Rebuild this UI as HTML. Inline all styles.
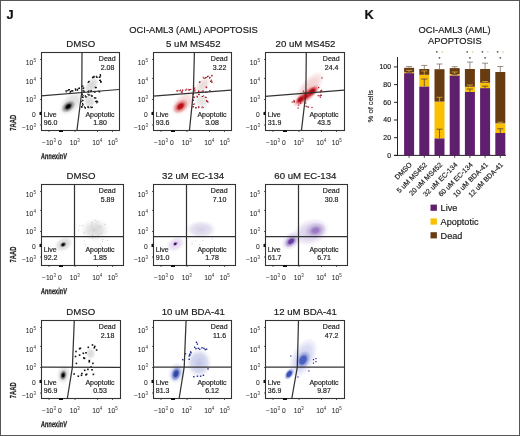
<!DOCTYPE html>
<html><head><meta charset="utf-8"><style>
html,body{margin:0;padding:0;background:#fff;}
svg{display:block;}
text{font-family:"Liberation Sans", sans-serif;}
</style></head><body>
<svg style="will-change:transform" width="520" height="436" viewBox="0 0 520 436">
<defs><filter id="b0_6" x="-100%" y="-100%" width="300%" height="300%"><feGaussianBlur stdDeviation="0.6"/></filter><filter id="b1" x="-100%" y="-100%" width="300%" height="300%"><feGaussianBlur stdDeviation="1"/></filter><filter id="b1_5" x="-100%" y="-100%" width="300%" height="300%"><feGaussianBlur stdDeviation="1.5"/></filter><filter id="b2" x="-100%" y="-100%" width="300%" height="300%"><feGaussianBlur stdDeviation="2"/></filter><filter id="b3" x="-100%" y="-100%" width="300%" height="300%"><feGaussianBlur stdDeviation="3"/></filter><filter id="b4" x="-100%" y="-100%" width="300%" height="300%"><feGaussianBlur stdDeviation="4"/></filter><filter id="b5" x="-100%" y="-100%" width="300%" height="300%"><feGaussianBlur stdDeviation="5"/></filter><radialGradient id="g1"><stop offset="0" stop-color="#d6d6d6" stop-opacity="0.85"/><stop offset="0.55" stop-color="#d6d6d6" stop-opacity="0.6375"/><stop offset="1" stop-color="#d6d6d6" stop-opacity="0"/></radialGradient><radialGradient id="g2"><stop offset="0" stop-color="#000" stop-opacity="1"/><stop offset="0.25" stop-color="#000" stop-opacity="1"/><stop offset="0.6" stop-color="#777" stop-opacity="0.7"/><stop offset="1" stop-color="#777" stop-opacity="0"/></radialGradient><radialGradient id="g3"><stop offset="0" stop-color="#cfcfcf" stop-opacity="0.85"/><stop offset="0.55" stop-color="#cfcfcf" stop-opacity="0.6375"/><stop offset="1" stop-color="#cfcfcf" stop-opacity="0"/></radialGradient><radialGradient id="g4"><stop offset="0" stop-color="#d2d2d2" stop-opacity="0.85"/><stop offset="0.55" stop-color="#d2d2d2" stop-opacity="0.6375"/><stop offset="1" stop-color="#d2d2d2" stop-opacity="0"/></radialGradient><radialGradient id="g5"><stop offset="0" stop-color="#f2cccc" stop-opacity="0.85"/><stop offset="0.55" stop-color="#f2cccc" stop-opacity="0.6375"/><stop offset="1" stop-color="#f2cccc" stop-opacity="0"/></radialGradient><radialGradient id="g6"><stop offset="0" stop-color="#b81018" stop-opacity="1"/><stop offset="0.3" stop-color="#b81018" stop-opacity="1"/><stop offset="0.6" stop-color="#e07070" stop-opacity="0.7"/><stop offset="1" stop-color="#e07070" stop-opacity="0"/></radialGradient><radialGradient id="g7"><stop offset="0" stop-color="#e6d6d6" stop-opacity="0.9"/><stop offset="0.55" stop-color="#e6d6d6" stop-opacity="0.675"/><stop offset="1" stop-color="#e6d6d6" stop-opacity="0"/></radialGradient><radialGradient id="g8"><stop offset="0" stop-color="#e2dede" stop-opacity="0.9"/><stop offset="0.55" stop-color="#e2dede" stop-opacity="0.675"/><stop offset="1" stop-color="#e2dede" stop-opacity="0"/></radialGradient><radialGradient id="g9"><stop offset="0" stop-color="#f0c4c4" stop-opacity="0.85"/><stop offset="0.55" stop-color="#f0c4c4" stop-opacity="0.6375"/><stop offset="1" stop-color="#f0c4c4" stop-opacity="0"/></radialGradient><radialGradient id="g10"><stop offset="0" stop-color="#c01820" stop-opacity="1"/><stop offset="0.3" stop-color="#c01820" stop-opacity="1"/><stop offset="0.6" stop-color="#e07078" stop-opacity="0.7"/><stop offset="1" stop-color="#e07078" stop-opacity="0"/></radialGradient><radialGradient id="g11"><stop offset="0" stop-color="#a80c14" stop-opacity="1"/><stop offset="0.4" stop-color="#a80c14" stop-opacity="1"/><stop offset="0.6" stop-color="#c83038" stop-opacity="0.7"/><stop offset="1" stop-color="#c83038" stop-opacity="0"/></radialGradient><radialGradient id="g12"><stop offset="0" stop-color="#a80c14" stop-opacity="1"/><stop offset="0.4" stop-color="#a80c14" stop-opacity="1"/><stop offset="0.6" stop-color="#c83038" stop-opacity="0.7"/><stop offset="1" stop-color="#c83038" stop-opacity="0"/></radialGradient><radialGradient id="g13"><stop offset="0" stop-color="#d0d0d0" stop-opacity="0.85"/><stop offset="0.55" stop-color="#d0d0d0" stop-opacity="0.6375"/><stop offset="1" stop-color="#d0d0d0" stop-opacity="0"/></radialGradient><radialGradient id="g14"><stop offset="0" stop-color="#000" stop-opacity="1"/><stop offset="0.3" stop-color="#000" stop-opacity="1"/><stop offset="0.6" stop-color="#666" stop-opacity="0.7"/><stop offset="1" stop-color="#666" stop-opacity="0"/></radialGradient><radialGradient id="g15"><stop offset="0" stop-color="#d0d0d0" stop-opacity="0.9"/><stop offset="0.5" stop-color="#dadada" stop-opacity="0.7"/><stop offset="1" stop-color="#eee" stop-opacity="0"/></radialGradient><radialGradient id="g16"><stop offset="0" stop-color="#e0d2ee" stop-opacity="0.9"/><stop offset="0.55" stop-color="#e0d2ee" stop-opacity="0.675"/><stop offset="1" stop-color="#e0d2ee" stop-opacity="0"/></radialGradient><radialGradient id="g17"><stop offset="0" stop-color="#2a1050" stop-opacity="1"/><stop offset="0.3" stop-color="#2a1050" stop-opacity="1"/><stop offset="0.6" stop-color="#9070c0" stop-opacity="0.7"/><stop offset="1" stop-color="#9070c0" stop-opacity="0"/></radialGradient><radialGradient id="g18"><stop offset="0" stop-color="#d2cae4" stop-opacity="0.9"/><stop offset="0.6" stop-color="#dcd6ec" stop-opacity="0.7"/><stop offset="1" stop-color="#eee" stop-opacity="0"/></radialGradient><radialGradient id="g19"><stop offset="0" stop-color="#d0c4e6" stop-opacity="0.85"/><stop offset="0.55" stop-color="#d0c4e6" stop-opacity="0.6375"/><stop offset="1" stop-color="#d0c4e6" stop-opacity="0"/></radialGradient><radialGradient id="g20"><stop offset="0" stop-color="#6a3ca0" stop-opacity="1"/><stop offset="0.35" stop-color="#6a3ca0" stop-opacity="1"/><stop offset="0.6" stop-color="#9a80c4" stop-opacity="0.7"/><stop offset="1" stop-color="#9a80c4" stop-opacity="0"/></radialGradient><radialGradient id="g21"><stop offset="0" stop-color="#d4c8e8" stop-opacity="0.9"/><stop offset="0.55" stop-color="#d4c8e8" stop-opacity="0.675"/><stop offset="1" stop-color="#d4c8e8" stop-opacity="0"/></radialGradient><radialGradient id="g22"><stop offset="0" stop-color="#9a78c4" stop-opacity="1"/><stop offset="0.25" stop-color="#9a78c4" stop-opacity="1"/><stop offset="0.6" stop-color="#bcaad8" stop-opacity="0.7"/><stop offset="1" stop-color="#bcaad8" stop-opacity="0"/></radialGradient><radialGradient id="g23"><stop offset="0" stop-color="#d6d6d6" stop-opacity="0.85"/><stop offset="0.55" stop-color="#d6d6d6" stop-opacity="0.6375"/><stop offset="1" stop-color="#d6d6d6" stop-opacity="0"/></radialGradient><radialGradient id="g24"><stop offset="0" stop-color="#000" stop-opacity="1"/><stop offset="0.25" stop-color="#000" stop-opacity="1"/><stop offset="0.6" stop-color="#666" stop-opacity="0.7"/><stop offset="1" stop-color="#666" stop-opacity="0"/></radialGradient><radialGradient id="g25"><stop offset="0" stop-color="#d4d4d4" stop-opacity="0.85"/><stop offset="0.55" stop-color="#d4d4d4" stop-opacity="0.6375"/><stop offset="1" stop-color="#d4d4d4" stop-opacity="0"/></radialGradient><radialGradient id="g26"><stop offset="0" stop-color="#c4cbec" stop-opacity="0.85"/><stop offset="0.55" stop-color="#c4cbec" stop-opacity="0.6375"/><stop offset="1" stop-color="#c4cbec" stop-opacity="0"/></radialGradient><radialGradient id="g27"><stop offset="0" stop-color="#3048a8" stop-opacity="1"/><stop offset="0.35" stop-color="#3048a8" stop-opacity="1"/><stop offset="0.6" stop-color="#6070c0" stop-opacity="0.7"/><stop offset="1" stop-color="#6070c0" stop-opacity="0"/></radialGradient><radialGradient id="g28"><stop offset="0" stop-color="#bcc0e4" stop-opacity="0.95"/><stop offset="0.6" stop-color="#ccd0ea" stop-opacity="0.8"/><stop offset="1" stop-color="#e6e6f2" stop-opacity="0"/></radialGradient><radialGradient id="g29"><stop offset="0" stop-color="#c8ccee" stop-opacity="0.9"/><stop offset="0.55" stop-color="#c8ccee" stop-opacity="0.675"/><stop offset="1" stop-color="#c8ccee" stop-opacity="0"/></radialGradient><radialGradient id="g30"><stop offset="0" stop-color="#3a50b8" stop-opacity="1"/><stop offset="0.45" stop-color="#3a50b8" stop-opacity="1"/><stop offset="0.6" stop-color="#6878c8" stop-opacity="0.7"/><stop offset="1" stop-color="#6878c8" stop-opacity="0"/></radialGradient><radialGradient id="g31"><stop offset="0" stop-color="#4a60c0" stop-opacity="1"/><stop offset="0.4" stop-color="#4a60c0" stop-opacity="1"/><stop offset="0.6" stop-color="#8090d4" stop-opacity="0.7"/><stop offset="1" stop-color="#8090d4" stop-opacity="0"/></radialGradient></defs>
<rect width="520" height="436" fill="#fff"/>
<rect x="0.5" y="0.5" width="519" height="435" fill="none" stroke="#555" stroke-width="1"/>
<text x="6.6" y="18.9" font-size="12.8" text-anchor="start" font-weight="bold" fill="#111" stroke="#111" stroke-width="0.18" >J</text>
<text x="193.5" y="32.6" font-size="9.4" text-anchor="middle" font-weight="normal" fill="#1a1a1a" stroke="#1a1a1a" stroke-width="0.18" >OCI-AML3 (AML) APOPTOSIS</text>
<ellipse cx="71" cy="103.5" rx="15" ry="9" transform="rotate(-45 71 103.5)" fill="url(#g1)"/>
<ellipse cx="68.3" cy="106.5" rx="8" ry="5.2" transform="rotate(-38 68.3 106.5)" fill="url(#g2)"/>
<ellipse cx="91.5" cy="85.5" rx="10" ry="5.8" transform="rotate(-55 91.5 85.5)" fill="url(#g3)"/>
<ellipse cx="89.5" cy="101.5" rx="6.5" ry="6" transform="rotate(0 89.5 101.5)" fill="url(#g4)"/>
<rect x="91.9" y="76.8" width="1.2" height="1.2" fill="#111"/>
<rect x="92.4" y="76.7" width="1.2" height="1.2" fill="#111"/>
<rect x="92.3" y="77.2" width="1.2" height="1.2" fill="#111"/>
<rect x="93.3" y="76.5" width="1.2" height="1.2" fill="#111"/>
<rect x="93.3" y="76.4" width="1.2" height="1.2" fill="#111"/>
<rect x="93.3" y="75.8" width="1.2" height="1.2" fill="#111"/>
<rect x="96.2" y="76.6" width="1.2" height="1.2" fill="#111"/>
<rect x="95.7" y="75.7" width="1.2" height="1.2" fill="#111"/>
<rect x="96.5" y="76.8" width="1.2" height="1.2" fill="#111"/>
<rect x="98.7" y="76.7" width="1.2" height="1.2" fill="#111"/>
<rect x="99.4" y="76.2" width="1.2" height="1.2" fill="#111"/>
<rect x="99.2" y="76.6" width="1.2" height="1.2" fill="#111"/>
<rect x="99.7" y="74.0" width="1.2" height="1.2" fill="#111"/>
<rect x="100.0" y="75.1" width="1.2" height="1.2" fill="#111"/>
<rect x="99.8" y="74.7" width="1.2" height="1.2" fill="#111"/>
<rect x="99.9" y="80.1" width="1.2" height="1.2" fill="#111"/>
<rect x="99.8" y="79.6" width="1.2" height="1.2" fill="#111"/>
<rect x="99.0" y="79.8" width="1.2" height="1.2" fill="#111"/>
<rect x="100.6" y="81.3" width="1.2" height="1.2" fill="#111"/>
<rect x="100.0" y="81.5" width="1.2" height="1.2" fill="#111"/>
<rect x="100.2" y="81.1" width="1.2" height="1.2" fill="#111"/>
<rect x="95.6" y="86.9" width="1.2" height="1.2" fill="#111"/>
<rect x="94.7" y="86.7" width="1.2" height="1.2" fill="#111"/>
<rect x="95.1" y="87.2" width="1.2" height="1.2" fill="#111"/>
<rect x="88.1" y="81.1" width="1.2" height="1.2" fill="#111"/>
<rect x="88.5" y="80.8" width="1.2" height="1.2" fill="#111"/>
<rect x="87.6" y="81.8" width="1.2" height="1.2" fill="#111"/>
<rect x="81.3" y="85.4" width="1.2" height="1.2" fill="#111"/>
<rect x="81.2" y="85.7" width="1.2" height="1.2" fill="#111"/>
<rect x="82.3" y="85.5" width="1.2" height="1.2" fill="#111"/>
<rect x="83.1" y="87.4" width="1.2" height="1.2" fill="#111"/>
<rect x="82.8" y="87.9" width="1.2" height="1.2" fill="#111"/>
<rect x="82.6" y="87.6" width="1.2" height="1.2" fill="#111"/>
<rect x="83.6" y="90.7" width="1.2" height="1.2" fill="#111"/>
<rect x="83.1" y="90.3" width="1.2" height="1.2" fill="#111"/>
<rect x="82.4" y="90.3" width="1.2" height="1.2" fill="#111"/>
<rect x="87.9" y="91.4" width="1.2" height="1.2" fill="#111"/>
<rect x="88.2" y="90.3" width="1.2" height="1.2" fill="#111"/>
<rect x="87.5" y="90.9" width="1.2" height="1.2" fill="#111"/>
<rect x="90.3" y="90.5" width="1.2" height="1.2" fill="#111"/>
<rect x="90.6" y="90.0" width="1.2" height="1.2" fill="#111"/>
<rect x="90.4" y="91.0" width="1.2" height="1.2" fill="#111"/>
<rect x="93.9" y="90.8" width="1.2" height="1.2" fill="#111"/>
<rect x="94.3" y="91.8" width="1.2" height="1.2" fill="#111"/>
<rect x="93.8" y="91.1" width="1.2" height="1.2" fill="#111"/>
<rect x="98.7" y="91.2" width="1.2" height="1.2" fill="#111"/>
<rect x="99.1" y="91.2" width="1.2" height="1.2" fill="#111"/>
<rect x="98.2" y="90.5" width="1.2" height="1.2" fill="#111"/>
<rect x="65.7" y="91.2" width="1.2" height="1.2" fill="#111"/>
<rect x="66.6" y="90.0" width="1.2" height="1.2" fill="#111"/>
<rect x="65.4" y="90.2" width="1.2" height="1.2" fill="#111"/>
<rect x="68.3" y="89.4" width="1.2" height="1.2" fill="#111"/>
<rect x="68.8" y="89.0" width="1.2" height="1.2" fill="#111"/>
<rect x="67.9" y="89.3" width="1.2" height="1.2" fill="#111"/>
<rect x="71.4" y="90.1" width="1.2" height="1.2" fill="#111"/>
<rect x="72.3" y="90.3" width="1.2" height="1.2" fill="#111"/>
<rect x="71.6" y="90.2" width="1.2" height="1.2" fill="#111"/>
<rect x="74.7" y="88.2" width="1.2" height="1.2" fill="#111"/>
<rect x="75.0" y="89.3" width="1.2" height="1.2" fill="#111"/>
<rect x="75.0" y="89.4" width="1.2" height="1.2" fill="#111"/>
<rect x="77.1" y="89.2" width="1.2" height="1.2" fill="#111"/>
<rect x="76.7" y="89.6" width="1.2" height="1.2" fill="#111"/>
<rect x="76.6" y="88.7" width="1.2" height="1.2" fill="#111"/>
<rect x="78.6" y="87.8" width="1.2" height="1.2" fill="#111"/>
<rect x="78.8" y="87.6" width="1.2" height="1.2" fill="#111"/>
<rect x="78.3" y="87.7" width="1.2" height="1.2" fill="#111"/>
<rect x="69.8" y="91.0" width="1.2" height="1.2" fill="#111"/>
<rect x="69.6" y="91.8" width="1.2" height="1.2" fill="#111"/>
<rect x="70.6" y="90.6" width="1.2" height="1.2" fill="#111"/>
<rect x="81.5" y="93.9" width="1.2" height="1.2" fill="#111"/>
<rect x="81.7" y="93.5" width="1.2" height="1.2" fill="#111"/>
<rect x="82.5" y="94.9" width="1.2" height="1.2" fill="#111"/>
<rect x="82.4" y="96.9" width="1.2" height="1.2" fill="#111"/>
<rect x="81.8" y="96.3" width="1.2" height="1.2" fill="#111"/>
<rect x="82.2" y="96.5" width="1.2" height="1.2" fill="#111"/>
<rect x="82.4" y="99.9" width="1.2" height="1.2" fill="#111"/>
<rect x="81.1" y="101.1" width="1.2" height="1.2" fill="#111"/>
<rect x="81.9" y="99.8" width="1.2" height="1.2" fill="#111"/>
<rect x="82.0" y="103.0" width="1.2" height="1.2" fill="#111"/>
<rect x="81.9" y="104.6" width="1.2" height="1.2" fill="#111"/>
<rect x="82.5" y="104.1" width="1.2" height="1.2" fill="#111"/>
<rect x="81.0" y="105.9" width="1.2" height="1.2" fill="#111"/>
<rect x="80.9" y="106.5" width="1.2" height="1.2" fill="#111"/>
<rect x="81.5" y="106.5" width="1.2" height="1.2" fill="#111"/>
<rect x="83.9" y="106.3" width="1.2" height="1.2" fill="#111"/>
<rect x="84.7" y="107.5" width="1.2" height="1.2" fill="#111"/>
<rect x="84.8" y="107.2" width="1.2" height="1.2" fill="#111"/>
<rect x="88.2" y="107.1" width="1.2" height="1.2" fill="#111"/>
<rect x="87.3" y="106.7" width="1.2" height="1.2" fill="#111"/>
<rect x="87.5" y="105.9" width="1.2" height="1.2" fill="#111"/>
<rect x="90.3" y="106.3" width="1.2" height="1.2" fill="#111"/>
<rect x="90.7" y="107.0" width="1.2" height="1.2" fill="#111"/>
<rect x="91.8" y="106.6" width="1.2" height="1.2" fill="#111"/>
<rect x="88.4" y="94.9" width="1.2" height="1.2" fill="#111"/>
<rect x="88.4" y="93.9" width="1.2" height="1.2" fill="#111"/>
<rect x="87.3" y="93.7" width="1.2" height="1.2" fill="#111"/>
<rect x="90.6" y="94.7" width="1.2" height="1.2" fill="#111"/>
<rect x="91.3" y="95.8" width="1.2" height="1.2" fill="#111"/>
<rect x="91.6" y="95.2" width="1.2" height="1.2" fill="#111"/>
<rect x="94.7" y="97.4" width="1.2" height="1.2" fill="#111"/>
<rect x="93.8" y="97.2" width="1.2" height="1.2" fill="#111"/>
<rect x="95.2" y="97.4" width="1.2" height="1.2" fill="#111"/>
<rect x="96.1" y="100.4" width="1.2" height="1.2" fill="#111"/>
<rect x="95.2" y="100.9" width="1.2" height="1.2" fill="#111"/>
<rect x="95.4" y="100.9" width="1.2" height="1.2" fill="#111"/>
<rect x="97.1" y="101.3" width="1.2" height="1.2" fill="#111"/>
<rect x="96.1" y="102.2" width="1.2" height="1.2" fill="#111"/>
<rect x="96.7" y="101.0" width="1.2" height="1.2" fill="#111"/>
<rect x="84.8" y="95.2" width="1.2" height="1.2" fill="#111"/>
<rect x="86.0" y="96.3" width="1.2" height="1.2" fill="#111"/>
<rect x="84.8" y="96.3" width="1.2" height="1.2" fill="#111"/>
<rect x="41.5" y="52.5" width="78" height="78" fill="none" stroke="#333" stroke-width="1.1"/>
<polyline points="82,52 81.8,91.8 77,130" fill="none" stroke="#333" stroke-width="1.25"/>
<polyline points="41,95.9 119,89.5" fill="none" stroke="#333" stroke-width="1.25"/>
<text x="80.8" y="46.7" font-size="9.65" text-anchor="middle" font-weight="normal" fill="#1a1a1a" stroke="#1a1a1a" stroke-width="0.18" >DMSO</text>
<text x="107.2" y="60.6" font-size="7" text-anchor="middle" font-weight="normal" fill="#222" stroke="#222" stroke-width="0.18" >Dead</text>
<text x="107.6" y="69.6" font-size="7" text-anchor="middle" font-weight="normal" fill="#222" stroke="#222" stroke-width="0.18" >2.08</text>
<text x="43.8" y="116.6" font-size="7" text-anchor="start" font-weight="normal" fill="#222" stroke="#222" stroke-width="0.18" >Live</text>
<text x="43.8" y="124.8" font-size="7" text-anchor="start" font-weight="normal" fill="#222" stroke="#222" stroke-width="0.18" >96.0</text>
<text x="100" y="116.6" font-size="7" text-anchor="middle" font-weight="normal" fill="#222" stroke="#222" stroke-width="0.18" >Apoptotic</text>
<text x="100" y="124.8" font-size="7" text-anchor="middle" font-weight="normal" fill="#222" stroke="#222" stroke-width="0.18" >1.80</text>
<text x="25.85" y="64.7" font-size="6.7" fill="#2a2a2a" stroke="#2a2a2a" stroke-width="0.06">10</text>
<text transform="translate(33.40 61.70) scale(0.5000)" x="0" y="0" font-size="9" fill="#333">5</text>
<text x="25.85" y="83.7" font-size="6.7" fill="#2a2a2a" stroke="#2a2a2a" stroke-width="0.06">10</text>
<text transform="translate(33.40 80.70) scale(0.5000)" x="0" y="0" font-size="9" fill="#333">4</text>
<text x="25.85" y="102.4" font-size="6.7" fill="#2a2a2a" stroke="#2a2a2a" stroke-width="0.06">10</text>
<text transform="translate(33.40 99.40) scale(0.5000)" x="0" y="0" font-size="9" fill="#333">3</text>
<text x="35.8" y="116.8" font-size="6.7" text-anchor="end" font-weight="normal" fill="#2a2a2a" stroke="#2a2a2a" stroke-width="0.06" >0</text>
<text x="21.93" y="129.7" font-size="6.7" fill="#2a2a2a" stroke="#2a2a2a" stroke-width="0.06">−10</text>
<text transform="translate(33.40 126.70) scale(0.5000)" x="0" y="0" font-size="9" fill="#333">3</text>
<text x="42.00" y="145.2" font-size="6.7" fill="#2a2a2a" stroke="#2a2a2a" stroke-width="0.06">−10</text>
<text transform="translate(53.47 142.20) scale(0.5000)" x="0" y="0" font-size="9" fill="#333">3</text>
<text x="58" y="145.2" font-size="6.7" text-anchor="start" font-weight="normal" fill="#2a2a2a" stroke="#2a2a2a" stroke-width="0.06" >0</text>
<text x="69.70" y="145.2" font-size="6.7" fill="#2a2a2a" stroke="#2a2a2a" stroke-width="0.06">10</text>
<text transform="translate(77.25 142.20) scale(0.5000)" x="0" y="0" font-size="9" fill="#333">3</text>
<text x="92.20" y="145.2" font-size="6.7" fill="#2a2a2a" stroke="#2a2a2a" stroke-width="0.06">10</text>
<text transform="translate(99.75 142.20) scale(0.5000)" x="0" y="0" font-size="9" fill="#333">4</text>
<text x="107.80" y="145.2" font-size="6.7" fill="#2a2a2a" stroke="#2a2a2a" stroke-width="0.06">10</text>
<text transform="translate(115.35 142.20) scale(0.5000)" x="0" y="0" font-size="9" fill="#333">5</text>
<line x1="40" y1="59.5" x2="41.5" y2="59.5" stroke="#333" stroke-width="0.8"/>
<line x1="40" y1="78.4" x2="41.5" y2="78.4" stroke="#333" stroke-width="0.8"/>
<line x1="40" y1="99.5" x2="41.5" y2="99.5" stroke="#333" stroke-width="0.8"/>
<line x1="40" y1="112.3" x2="41.5" y2="112.3" stroke="#333" stroke-width="0.8"/>
<line x1="40" y1="125" x2="41.5" y2="125" stroke="#333" stroke-width="0.8"/>
<line x1="49" y1="130.5" x2="49" y2="132" stroke="#333" stroke-width="0.8"/>
<line x1="60" y1="130.5" x2="60" y2="132" stroke="#333" stroke-width="0.8"/>
<line x1="75" y1="130.5" x2="75" y2="132" stroke="#333" stroke-width="0.8"/>
<line x1="97.5" y1="130.5" x2="97.5" y2="132" stroke="#333" stroke-width="0.8"/>
<line x1="112.5" y1="130.5" x2="112.5" y2="132" stroke="#333" stroke-width="0.8"/>
<rect x="39.5" y="112" width="2" height="3" fill="#111"/>
<rect x="59" y="130" width="4" height="2" fill="#111"/>
<ellipse cx="183" cy="103.5" rx="15" ry="9" transform="rotate(-45 183 103.5)" fill="url(#g5)"/>
<ellipse cx="180.5" cy="106.3" rx="9" ry="6" transform="rotate(-40 180.5 106.3)" fill="url(#g6)"/>
<ellipse cx="202.5" cy="85.5" rx="10" ry="6" transform="rotate(-50 202.5 85.5)" fill="url(#g7)"/>
<ellipse cx="202" cy="101" rx="7.5" ry="7" transform="rotate(0 202 101)" fill="url(#g8)"/>
<rect x="204.1" y="77.8" width="1.0" height="1.0" fill="#a01020"/>
<rect x="203.1" y="77.6" width="1.0" height="1.0" fill="#a01020"/>
<rect x="202.7" y="76.7" width="1.0" height="1.0" fill="#a01020"/>
<rect x="205.9" y="76.8" width="1.0" height="1.0" fill="#a01020"/>
<rect x="205.1" y="77.3" width="1.0" height="1.0" fill="#a01020"/>
<rect x="205.0" y="77.2" width="1.0" height="1.0" fill="#a01020"/>
<rect x="207.9" y="75.7" width="1.0" height="1.0" fill="#a01020"/>
<rect x="207.0" y="75.9" width="1.0" height="1.0" fill="#a01020"/>
<rect x="207.0" y="76.3" width="1.0" height="1.0" fill="#a01020"/>
<rect x="209.3" y="76.9" width="1.0" height="1.0" fill="#a01020"/>
<rect x="209.1" y="77.7" width="1.0" height="1.0" fill="#a01020"/>
<rect x="209.5" y="76.9" width="1.0" height="1.0" fill="#a01020"/>
<rect x="211.5" y="75.3" width="1.0" height="1.0" fill="#a01020"/>
<rect x="211.3" y="75.4" width="1.0" height="1.0" fill="#a01020"/>
<rect x="211.4" y="74.8" width="1.0" height="1.0" fill="#a01020"/>
<rect x="210.8" y="79.6" width="1.0" height="1.0" fill="#a01020"/>
<rect x="210.7" y="79.9" width="1.0" height="1.0" fill="#a01020"/>
<rect x="210.0" y="80.9" width="1.0" height="1.0" fill="#a01020"/>
<rect x="210.9" y="81.5" width="1.0" height="1.0" fill="#a01020"/>
<rect x="211.8" y="81.6" width="1.0" height="1.0" fill="#a01020"/>
<rect x="211.1" y="81.5" width="1.0" height="1.0" fill="#a01020"/>
<rect x="206.3" y="87.2" width="1.0" height="1.0" fill="#a01020"/>
<rect x="205.6" y="86.8" width="1.0" height="1.0" fill="#a01020"/>
<rect x="205.8" y="86.3" width="1.0" height="1.0" fill="#a01020"/>
<rect x="199.2" y="81.5" width="1.0" height="1.0" fill="#a01020"/>
<rect x="198.9" y="81.9" width="1.0" height="1.0" fill="#a01020"/>
<rect x="199.5" y="81.4" width="1.0" height="1.0" fill="#a01020"/>
<rect x="193.2" y="85.5" width="1.0" height="1.0" fill="#a01020"/>
<rect x="193.0" y="85.8" width="1.0" height="1.0" fill="#a01020"/>
<rect x="192.9" y="85.6" width="1.0" height="1.0" fill="#a01020"/>
<rect x="193.6" y="88.5" width="1.0" height="1.0" fill="#a01020"/>
<rect x="193.9" y="88.4" width="1.0" height="1.0" fill="#a01020"/>
<rect x="194.3" y="87.4" width="1.0" height="1.0" fill="#a01020"/>
<rect x="194.3" y="90.8" width="1.0" height="1.0" fill="#a01020"/>
<rect x="194.7" y="89.5" width="1.0" height="1.0" fill="#a01020"/>
<rect x="193.6" y="90.0" width="1.0" height="1.0" fill="#a01020"/>
<rect x="198.1" y="90.3" width="1.0" height="1.0" fill="#a01020"/>
<rect x="198.1" y="91.0" width="1.0" height="1.0" fill="#a01020"/>
<rect x="199.3" y="91.3" width="1.0" height="1.0" fill="#a01020"/>
<rect x="201.6" y="91.0" width="1.0" height="1.0" fill="#a01020"/>
<rect x="202.5" y="90.1" width="1.0" height="1.0" fill="#a01020"/>
<rect x="202.8" y="91.4" width="1.0" height="1.0" fill="#a01020"/>
<rect x="205.2" y="92.0" width="1.0" height="1.0" fill="#a01020"/>
<rect x="205.4" y="91.3" width="1.0" height="1.0" fill="#a01020"/>
<rect x="206.4" y="91.8" width="1.0" height="1.0" fill="#a01020"/>
<rect x="209.2" y="90.6" width="1.0" height="1.0" fill="#a01020"/>
<rect x="209.7" y="90.4" width="1.0" height="1.0" fill="#a01020"/>
<rect x="209.2" y="90.4" width="1.0" height="1.0" fill="#a01020"/>
<rect x="177.4" y="89.9" width="1.0" height="1.0" fill="#a01020"/>
<rect x="177.1" y="90.6" width="1.0" height="1.0" fill="#a01020"/>
<rect x="176.2" y="90.4" width="1.0" height="1.0" fill="#a01020"/>
<rect x="180.0" y="89.5" width="1.0" height="1.0" fill="#a01020"/>
<rect x="179.1" y="90.3" width="1.0" height="1.0" fill="#a01020"/>
<rect x="180.3" y="90.3" width="1.0" height="1.0" fill="#a01020"/>
<rect x="182.1" y="89.7" width="1.0" height="1.0" fill="#a01020"/>
<rect x="182.0" y="90.5" width="1.0" height="1.0" fill="#a01020"/>
<rect x="182.3" y="89.5" width="1.0" height="1.0" fill="#a01020"/>
<rect x="185.4" y="89.7" width="1.0" height="1.0" fill="#a01020"/>
<rect x="186.0" y="88.6" width="1.0" height="1.0" fill="#a01020"/>
<rect x="184.9" y="89.7" width="1.0" height="1.0" fill="#a01020"/>
<rect x="188.5" y="89.8" width="1.0" height="1.0" fill="#a01020"/>
<rect x="187.7" y="88.8" width="1.0" height="1.0" fill="#a01020"/>
<rect x="188.7" y="89.4" width="1.0" height="1.0" fill="#a01020"/>
<rect x="189.5" y="89.1" width="1.0" height="1.0" fill="#a01020"/>
<rect x="190.4" y="88.9" width="1.0" height="1.0" fill="#a01020"/>
<rect x="189.5" y="89.0" width="1.0" height="1.0" fill="#a01020"/>
<rect x="180.8" y="91.9" width="1.0" height="1.0" fill="#a01020"/>
<rect x="181.4" y="91.0" width="1.0" height="1.0" fill="#a01020"/>
<rect x="181.6" y="92.0" width="1.0" height="1.0" fill="#a01020"/>
<rect x="192.6" y="93.6" width="1.0" height="1.0" fill="#a01020"/>
<rect x="193.0" y="93.8" width="1.0" height="1.0" fill="#a01020"/>
<rect x="192.4" y="93.7" width="1.0" height="1.0" fill="#a01020"/>
<rect x="192.9" y="96.5" width="1.0" height="1.0" fill="#a01020"/>
<rect x="193.3" y="96.7" width="1.0" height="1.0" fill="#a01020"/>
<rect x="194.0" y="96.7" width="1.0" height="1.0" fill="#a01020"/>
<rect x="193.0" y="100.0" width="1.0" height="1.0" fill="#a01020"/>
<rect x="192.8" y="99.7" width="1.0" height="1.0" fill="#a01020"/>
<rect x="192.6" y="99.7" width="1.0" height="1.0" fill="#a01020"/>
<rect x="193.4" y="104.0" width="1.0" height="1.0" fill="#a01020"/>
<rect x="192.5" y="103.9" width="1.0" height="1.0" fill="#a01020"/>
<rect x="193.7" y="103.3" width="1.0" height="1.0" fill="#a01020"/>
<rect x="193.0" y="106.1" width="1.0" height="1.0" fill="#a01020"/>
<rect x="192.5" y="106.7" width="1.0" height="1.0" fill="#a01020"/>
<rect x="192.3" y="106.2" width="1.0" height="1.0" fill="#a01020"/>
<rect x="195.6" y="107.6" width="1.0" height="1.0" fill="#a01020"/>
<rect x="195.0" y="107.3" width="1.0" height="1.0" fill="#a01020"/>
<rect x="195.6" y="107.0" width="1.0" height="1.0" fill="#a01020"/>
<rect x="198.6" y="106.6" width="1.0" height="1.0" fill="#a01020"/>
<rect x="198.1" y="106.2" width="1.0" height="1.0" fill="#a01020"/>
<rect x="198.1" y="107.2" width="1.0" height="1.0" fill="#a01020"/>
<rect x="201.8" y="106.3" width="1.0" height="1.0" fill="#a01020"/>
<rect x="201.5" y="107.3" width="1.0" height="1.0" fill="#a01020"/>
<rect x="202.8" y="107.1" width="1.0" height="1.0" fill="#a01020"/>
<rect x="198.5" y="93.8" width="1.0" height="1.0" fill="#a01020"/>
<rect x="198.5" y="94.1" width="1.0" height="1.0" fill="#a01020"/>
<rect x="198.3" y="94.1" width="1.0" height="1.0" fill="#a01020"/>
<rect x="201.8" y="96.0" width="1.0" height="1.0" fill="#a01020"/>
<rect x="203.0" y="95.4" width="1.0" height="1.0" fill="#a01020"/>
<rect x="201.8" y="96.0" width="1.0" height="1.0" fill="#a01020"/>
<rect x="205.3" y="96.8" width="1.0" height="1.0" fill="#a01020"/>
<rect x="204.8" y="96.8" width="1.0" height="1.0" fill="#a01020"/>
<rect x="205.6" y="97.0" width="1.0" height="1.0" fill="#a01020"/>
<rect x="206.3" y="100.5" width="1.0" height="1.0" fill="#a01020"/>
<rect x="206.0" y="100.1" width="1.0" height="1.0" fill="#a01020"/>
<rect x="206.1" y="100.3" width="1.0" height="1.0" fill="#a01020"/>
<rect x="206.7" y="100.8" width="1.0" height="1.0" fill="#a01020"/>
<rect x="207.1" y="101.2" width="1.0" height="1.0" fill="#a01020"/>
<rect x="207.5" y="101.6" width="1.0" height="1.0" fill="#a01020"/>
<rect x="196.9" y="96.2" width="1.0" height="1.0" fill="#a01020"/>
<rect x="196.8" y="96.5" width="1.0" height="1.0" fill="#a01020"/>
<rect x="196.3" y="95.6" width="1.0" height="1.0" fill="#a01020"/>
<rect x="153.5" y="52.5" width="78" height="78" fill="none" stroke="#333" stroke-width="1.1"/>
<polyline points="194.4,52 193.4,91.4 189.5,130" fill="none" stroke="#333" stroke-width="1.25"/>
<polyline points="153,96.1 231,90.1" fill="none" stroke="#333" stroke-width="1.25"/>
<text x="193.3" y="46.7" font-size="9.65" text-anchor="middle" font-weight="normal" fill="#1a1a1a" stroke="#1a1a1a" stroke-width="0.18" >5 uM MS452</text>
<text x="219.2" y="60.6" font-size="7" text-anchor="middle" font-weight="normal" fill="#222" stroke="#222" stroke-width="0.18" >Dead</text>
<text x="219.6" y="69.6" font-size="7" text-anchor="middle" font-weight="normal" fill="#222" stroke="#222" stroke-width="0.18" >3.22</text>
<text x="155.8" y="116.6" font-size="7" text-anchor="start" font-weight="normal" fill="#222" stroke="#222" stroke-width="0.18" >Live</text>
<text x="155.8" y="124.8" font-size="7" text-anchor="start" font-weight="normal" fill="#222" stroke="#222" stroke-width="0.18" >93.6</text>
<text x="212" y="116.6" font-size="7" text-anchor="middle" font-weight="normal" fill="#222" stroke="#222" stroke-width="0.18" >Apoptotic</text>
<text x="212" y="124.8" font-size="7" text-anchor="middle" font-weight="normal" fill="#222" stroke="#222" stroke-width="0.18" >3.08</text>
<text x="137.85" y="64.7" font-size="6.7" fill="#2a2a2a" stroke="#2a2a2a" stroke-width="0.06">10</text>
<text transform="translate(145.40 61.70) scale(0.5000)" x="0" y="0" font-size="9" fill="#333">5</text>
<text x="137.85" y="83.7" font-size="6.7" fill="#2a2a2a" stroke="#2a2a2a" stroke-width="0.06">10</text>
<text transform="translate(145.40 80.70) scale(0.5000)" x="0" y="0" font-size="9" fill="#333">4</text>
<text x="137.85" y="102.4" font-size="6.7" fill="#2a2a2a" stroke="#2a2a2a" stroke-width="0.06">10</text>
<text transform="translate(145.40 99.40) scale(0.5000)" x="0" y="0" font-size="9" fill="#333">3</text>
<text x="147.8" y="116.8" font-size="6.7" text-anchor="end" font-weight="normal" fill="#2a2a2a" stroke="#2a2a2a" stroke-width="0.06" >0</text>
<text x="133.93" y="129.7" font-size="6.7" fill="#2a2a2a" stroke="#2a2a2a" stroke-width="0.06">−10</text>
<text transform="translate(145.40 126.70) scale(0.5000)" x="0" y="0" font-size="9" fill="#333">3</text>
<text x="154.00" y="145.2" font-size="6.7" fill="#2a2a2a" stroke="#2a2a2a" stroke-width="0.06">−10</text>
<text transform="translate(165.47 142.20) scale(0.5000)" x="0" y="0" font-size="9" fill="#333">3</text>
<text x="170" y="145.2" font-size="6.7" text-anchor="start" font-weight="normal" fill="#2a2a2a" stroke="#2a2a2a" stroke-width="0.06" >0</text>
<text x="181.70" y="145.2" font-size="6.7" fill="#2a2a2a" stroke="#2a2a2a" stroke-width="0.06">10</text>
<text transform="translate(189.25 142.20) scale(0.5000)" x="0" y="0" font-size="9" fill="#333">3</text>
<text x="204.20" y="145.2" font-size="6.7" fill="#2a2a2a" stroke="#2a2a2a" stroke-width="0.06">10</text>
<text transform="translate(211.75 142.20) scale(0.5000)" x="0" y="0" font-size="9" fill="#333">4</text>
<text x="219.80" y="145.2" font-size="6.7" fill="#2a2a2a" stroke="#2a2a2a" stroke-width="0.06">10</text>
<text transform="translate(227.35 142.20) scale(0.5000)" x="0" y="0" font-size="9" fill="#333">5</text>
<line x1="152" y1="59.5" x2="153.5" y2="59.5" stroke="#333" stroke-width="0.8"/>
<line x1="152" y1="78.4" x2="153.5" y2="78.4" stroke="#333" stroke-width="0.8"/>
<line x1="152" y1="99.5" x2="153.5" y2="99.5" stroke="#333" stroke-width="0.8"/>
<line x1="152" y1="112.3" x2="153.5" y2="112.3" stroke="#333" stroke-width="0.8"/>
<line x1="152" y1="125" x2="153.5" y2="125" stroke="#333" stroke-width="0.8"/>
<line x1="161" y1="130.5" x2="161" y2="132" stroke="#333" stroke-width="0.8"/>
<line x1="172" y1="130.5" x2="172" y2="132" stroke="#333" stroke-width="0.8"/>
<line x1="187" y1="130.5" x2="187" y2="132" stroke="#333" stroke-width="0.8"/>
<line x1="209.5" y1="130.5" x2="209.5" y2="132" stroke="#333" stroke-width="0.8"/>
<line x1="224.5" y1="130.5" x2="224.5" y2="132" stroke="#333" stroke-width="0.8"/>
<rect x="151.5" y="112" width="2" height="3" fill="#111"/>
<rect x="171" y="130" width="4" height="2" fill="#111"/>
<ellipse cx="309" cy="88.5" rx="22" ry="9" transform="rotate(-50 309 88.5)" fill="url(#g9)"/>
<ellipse cx="306.5" cy="95.5" rx="17" ry="5.5" transform="rotate(-38 306.5 95.5)" fill="url(#g10)"/>
<ellipse cx="300.5" cy="99.5" rx="6" ry="3.5" transform="rotate(-45 300.5 99.5)" fill="url(#g11)"/>
<ellipse cx="312" cy="91.5" rx="7" ry="4" transform="rotate(-40 312 91.5)" fill="url(#g12)"/>
<rect x="321.3" y="77.3" width="1.2" height="1.2" fill="#a01020"/>
<rect x="320.3" y="90.1" width="1.2" height="1.2" fill="#a01020"/>
<rect x="317.6" y="95.1" width="1.2" height="1.2" fill="#a01020"/>
<rect x="321.0" y="89.7" width="1.2" height="1.2" fill="#a01020"/>
<rect x="320.3" y="94.5" width="1.2" height="1.2" fill="#a01020"/>
<rect x="318.0" y="87.0" width="1.2" height="1.2" fill="#a01020"/>
<rect x="319.4" y="95.1" width="1.2" height="1.2" fill="#a01020"/>
<rect x="320.6" y="94.9" width="1.2" height="1.2" fill="#a01020"/>
<rect x="319.7" y="96.6" width="1.2" height="1.2" fill="#a01020"/>
<rect x="320.1" y="91.4" width="1.2" height="1.2" fill="#a01020"/>
<rect x="300.0" y="102.6" width="1.2" height="1.2" fill="#a01020"/>
<rect x="298.1" y="104.6" width="1.2" height="1.2" fill="#a01020"/>
<rect x="297.5" y="107.4" width="1.2" height="1.2" fill="#a01020"/>
<rect x="306.6" y="106.2" width="1.2" height="1.2" fill="#a01020"/>
<rect x="307.9" y="106.5" width="1.2" height="1.2" fill="#a01020"/>
<rect x="305.2" y="102.4" width="1.2" height="1.2" fill="#a01020"/>
<rect x="311.4" y="106.9" width="1.2" height="1.2" fill="#a01020"/>
<rect x="305.5" y="105.6" width="1.2" height="1.2" fill="#a01020"/>
<rect x="293.4" y="99.9" width="1.2" height="1.2" fill="#a01020"/>
<rect x="293.6" y="101.4" width="1.2" height="1.2" fill="#a01020"/>
<rect x="291.6" y="101.5" width="1.2" height="1.2" fill="#a01020"/>
<rect x="293.6" y="101.0" width="1.2" height="1.2" fill="#a01020"/>
<rect x="303.7" y="92.4" width="1.1" height="1.1" fill="#a01020"/>
<rect x="302.9" y="90.6" width="1.1" height="1.1" fill="#a01020"/>
<rect x="265.5" y="52.5" width="79" height="78" fill="none" stroke="#333" stroke-width="1.1"/>
<polyline points="306.3,52 305.9,92.8 301.5,130" fill="none" stroke="#333" stroke-width="1.25"/>
<polyline points="265,96.4 344,90.1" fill="none" stroke="#333" stroke-width="1.25"/>
<text x="305.5" y="46.7" font-size="9.65" text-anchor="middle" font-weight="normal" fill="#1a1a1a" stroke="#1a1a1a" stroke-width="0.18" >20 uM MS452</text>
<text x="331.2" y="60.6" font-size="7" text-anchor="middle" font-weight="normal" fill="#222" stroke="#222" stroke-width="0.18" >Dead</text>
<text x="331.6" y="69.6" font-size="7" text-anchor="middle" font-weight="normal" fill="#222" stroke="#222" stroke-width="0.18" >24.4</text>
<text x="267.8" y="116.6" font-size="7" text-anchor="start" font-weight="normal" fill="#222" stroke="#222" stroke-width="0.18" >Live</text>
<text x="267.8" y="124.8" font-size="7" text-anchor="start" font-weight="normal" fill="#222" stroke="#222" stroke-width="0.18" >31.9</text>
<text x="324" y="116.6" font-size="7" text-anchor="middle" font-weight="normal" fill="#222" stroke="#222" stroke-width="0.18" >Apoptotic</text>
<text x="324" y="124.8" font-size="7" text-anchor="middle" font-weight="normal" fill="#222" stroke="#222" stroke-width="0.18" >43.5</text>
<text x="249.85" y="64.7" font-size="6.7" fill="#2a2a2a" stroke="#2a2a2a" stroke-width="0.06">10</text>
<text transform="translate(257.40 61.70) scale(0.5000)" x="0" y="0" font-size="9" fill="#333">5</text>
<text x="249.85" y="83.7" font-size="6.7" fill="#2a2a2a" stroke="#2a2a2a" stroke-width="0.06">10</text>
<text transform="translate(257.40 80.70) scale(0.5000)" x="0" y="0" font-size="9" fill="#333">4</text>
<text x="249.85" y="102.4" font-size="6.7" fill="#2a2a2a" stroke="#2a2a2a" stroke-width="0.06">10</text>
<text transform="translate(257.40 99.40) scale(0.5000)" x="0" y="0" font-size="9" fill="#333">3</text>
<text x="259.8" y="116.8" font-size="6.7" text-anchor="end" font-weight="normal" fill="#2a2a2a" stroke="#2a2a2a" stroke-width="0.06" >0</text>
<text x="245.93" y="129.7" font-size="6.7" fill="#2a2a2a" stroke="#2a2a2a" stroke-width="0.06">−10</text>
<text transform="translate(257.40 126.70) scale(0.5000)" x="0" y="0" font-size="9" fill="#333">3</text>
<text x="266.00" y="145.2" font-size="6.7" fill="#2a2a2a" stroke="#2a2a2a" stroke-width="0.06">−10</text>
<text transform="translate(277.47 142.20) scale(0.5000)" x="0" y="0" font-size="9" fill="#333">3</text>
<text x="282" y="145.2" font-size="6.7" text-anchor="start" font-weight="normal" fill="#2a2a2a" stroke="#2a2a2a" stroke-width="0.06" >0</text>
<text x="293.70" y="145.2" font-size="6.7" fill="#2a2a2a" stroke="#2a2a2a" stroke-width="0.06">10</text>
<text transform="translate(301.25 142.20) scale(0.5000)" x="0" y="0" font-size="9" fill="#333">3</text>
<text x="316.20" y="145.2" font-size="6.7" fill="#2a2a2a" stroke="#2a2a2a" stroke-width="0.06">10</text>
<text transform="translate(323.75 142.20) scale(0.5000)" x="0" y="0" font-size="9" fill="#333">4</text>
<text x="331.80" y="145.2" font-size="6.7" fill="#2a2a2a" stroke="#2a2a2a" stroke-width="0.06">10</text>
<text transform="translate(339.35 142.20) scale(0.5000)" x="0" y="0" font-size="9" fill="#333">5</text>
<line x1="264" y1="59.5" x2="265.5" y2="59.5" stroke="#333" stroke-width="0.8"/>
<line x1="264" y1="78.4" x2="265.5" y2="78.4" stroke="#333" stroke-width="0.8"/>
<line x1="264" y1="99.5" x2="265.5" y2="99.5" stroke="#333" stroke-width="0.8"/>
<line x1="264" y1="112.3" x2="265.5" y2="112.3" stroke="#333" stroke-width="0.8"/>
<line x1="264" y1="125" x2="265.5" y2="125" stroke="#333" stroke-width="0.8"/>
<line x1="273" y1="130.5" x2="273" y2="132" stroke="#333" stroke-width="0.8"/>
<line x1="284" y1="130.5" x2="284" y2="132" stroke="#333" stroke-width="0.8"/>
<line x1="299" y1="130.5" x2="299" y2="132" stroke="#333" stroke-width="0.8"/>
<line x1="321.5" y1="130.5" x2="321.5" y2="132" stroke="#333" stroke-width="0.8"/>
<line x1="336.5" y1="130.5" x2="336.5" y2="132" stroke="#333" stroke-width="0.8"/>
<rect x="263.5" y="112" width="2" height="3" fill="#111"/>
<rect x="283" y="130" width="4" height="2" fill="#111"/>
<ellipse cx="63.5" cy="244.3" rx="10" ry="7" transform="rotate(-30 63.5 244.3)" fill="url(#g13)"/>
<ellipse cx="63.2" cy="244.6" rx="3.8" ry="2.8" transform="rotate(-30 63.2 244.6)" fill="url(#g14)"/>
<ellipse cx="95" cy="230" rx="15" ry="12" transform="rotate(0 95 230)" fill="url(#g15)"/>
<rect x="91.9" y="234.6" width="0.9" height="0.9" fill="#b8b8b8"/>
<rect x="100.6" y="233.1" width="0.9" height="0.9" fill="#b8b8b8"/>
<rect x="96.8" y="221.3" width="0.9" height="0.9" fill="#b8b8b8"/>
<rect x="82.0" y="225.1" width="0.9" height="0.9" fill="#b8b8b8"/>
<rect x="99.8" y="226.2" width="0.9" height="0.9" fill="#b8b8b8"/>
<rect x="94.6" y="219.8" width="0.9" height="0.9" fill="#b8b8b8"/>
<rect x="79.4" y="225.5" width="0.9" height="0.9" fill="#b8b8b8"/>
<rect x="97.7" y="234.8" width="0.9" height="0.9" fill="#b8b8b8"/>
<rect x="97.8" y="225.9" width="0.9" height="0.9" fill="#b8b8b8"/>
<rect x="93.0" y="229.8" width="0.9" height="0.9" fill="#b8b8b8"/>
<rect x="91.5" y="222.2" width="0.9" height="0.9" fill="#b8b8b8"/>
<rect x="104.4" y="223.9" width="0.9" height="0.9" fill="#b8b8b8"/>
<rect x="106.9" y="240.1" width="0.9" height="0.9" fill="#b8b8b8"/>
<rect x="78.1" y="229.6" width="0.9" height="0.9" fill="#b8b8b8"/>
<rect x="102.1" y="240.8" width="0.9" height="0.9" fill="#b8b8b8"/>
<rect x="91.0" y="225.5" width="0.9" height="0.9" fill="#b8b8b8"/>
<rect x="83.8" y="240.4" width="0.9" height="0.9" fill="#b8b8b8"/>
<rect x="83.9" y="232.3" width="0.9" height="0.9" fill="#b8b8b8"/>
<rect x="84.7" y="243.8" width="0.9" height="0.9" fill="#c0c0c0"/>
<rect x="102.5" y="239.1" width="0.9" height="0.9" fill="#c0c0c0"/>
<rect x="99.6" y="243.7" width="0.9" height="0.9" fill="#c0c0c0"/>
<rect x="101.1" y="246.0" width="0.9" height="0.9" fill="#c0c0c0"/>
<rect x="86.6" y="248.3" width="0.9" height="0.9" fill="#c0c0c0"/>
<rect x="92.2" y="237.8" width="0.9" height="0.9" fill="#c0c0c0"/>
<rect x="41.5" y="184.5" width="82" height="81" fill="none" stroke="#333" stroke-width="1.1"/>
<polyline points="74.5,184 74.5,265" fill="none" stroke="#333" stroke-width="1.25"/>
<polyline points="41,236.5 123,236.5" fill="none" stroke="#333" stroke-width="1.25"/>
<text x="81" y="178.7" font-size="9.65" text-anchor="middle" font-weight="normal" fill="#1a1a1a" stroke="#1a1a1a" stroke-width="0.18" >DMSO</text>
<text x="107.2" y="192.6" font-size="7" text-anchor="middle" font-weight="normal" fill="#222" stroke="#222" stroke-width="0.18" >Dead</text>
<text x="107.6" y="201.6" font-size="7" text-anchor="middle" font-weight="normal" fill="#222" stroke="#222" stroke-width="0.18" >5.89</text>
<text x="43.8" y="251.6" font-size="7" text-anchor="start" font-weight="normal" fill="#222" stroke="#222" stroke-width="0.18" >Live</text>
<text x="43.8" y="259.8" font-size="7" text-anchor="start" font-weight="normal" fill="#222" stroke="#222" stroke-width="0.18" >92.2</text>
<text x="100" y="251.6" font-size="7" text-anchor="middle" font-weight="normal" fill="#222" stroke="#222" stroke-width="0.18" >Apoptotic</text>
<text x="100" y="259.8" font-size="7" text-anchor="middle" font-weight="normal" fill="#222" stroke="#222" stroke-width="0.18" >1.85</text>
<text x="25.85" y="196.7" font-size="6.7" fill="#2a2a2a" stroke="#2a2a2a" stroke-width="0.06">10</text>
<text transform="translate(33.40 193.70) scale(0.5000)" x="0" y="0" font-size="9" fill="#333">5</text>
<text x="25.85" y="215.7" font-size="6.7" fill="#2a2a2a" stroke="#2a2a2a" stroke-width="0.06">10</text>
<text transform="translate(33.40 212.70) scale(0.5000)" x="0" y="0" font-size="9" fill="#333">4</text>
<text x="25.85" y="234.4" font-size="6.7" fill="#2a2a2a" stroke="#2a2a2a" stroke-width="0.06">10</text>
<text transform="translate(33.40 231.40) scale(0.5000)" x="0" y="0" font-size="9" fill="#333">3</text>
<text x="35.8" y="248.8" font-size="6.7" text-anchor="end" font-weight="normal" fill="#2a2a2a" stroke="#2a2a2a" stroke-width="0.06" >0</text>
<text x="21.93" y="261.7" font-size="6.7" fill="#2a2a2a" stroke="#2a2a2a" stroke-width="0.06">−10</text>
<text transform="translate(33.40 258.70) scale(0.5000)" x="0" y="0" font-size="9" fill="#333">3</text>
<text x="42.00" y="280.2" font-size="6.7" fill="#2a2a2a" stroke="#2a2a2a" stroke-width="0.06">−10</text>
<text transform="translate(53.47 277.20) scale(0.5000)" x="0" y="0" font-size="9" fill="#333">3</text>
<text x="58" y="280.2" font-size="6.7" text-anchor="start" font-weight="normal" fill="#2a2a2a" stroke="#2a2a2a" stroke-width="0.06" >0</text>
<text x="69.70" y="280.2" font-size="6.7" fill="#2a2a2a" stroke="#2a2a2a" stroke-width="0.06">10</text>
<text transform="translate(77.25 277.20) scale(0.5000)" x="0" y="0" font-size="9" fill="#333">3</text>
<text x="92.20" y="280.2" font-size="6.7" fill="#2a2a2a" stroke="#2a2a2a" stroke-width="0.06">10</text>
<text transform="translate(99.75 277.20) scale(0.5000)" x="0" y="0" font-size="9" fill="#333">4</text>
<text x="107.80" y="280.2" font-size="6.7" fill="#2a2a2a" stroke="#2a2a2a" stroke-width="0.06">10</text>
<text transform="translate(115.35 277.20) scale(0.5000)" x="0" y="0" font-size="9" fill="#333">5</text>
<line x1="40" y1="191.5" x2="41.5" y2="191.5" stroke="#333" stroke-width="0.8"/>
<line x1="40" y1="210.4" x2="41.5" y2="210.4" stroke="#333" stroke-width="0.8"/>
<line x1="40" y1="231.5" x2="41.5" y2="231.5" stroke="#333" stroke-width="0.8"/>
<line x1="40" y1="244.3" x2="41.5" y2="244.3" stroke="#333" stroke-width="0.8"/>
<line x1="40" y1="257" x2="41.5" y2="257" stroke="#333" stroke-width="0.8"/>
<line x1="49" y1="265.5" x2="49" y2="267" stroke="#333" stroke-width="0.8"/>
<line x1="60" y1="265.5" x2="60" y2="267" stroke="#333" stroke-width="0.8"/>
<line x1="75" y1="265.5" x2="75" y2="267" stroke="#333" stroke-width="0.8"/>
<line x1="97.5" y1="265.5" x2="97.5" y2="267" stroke="#333" stroke-width="0.8"/>
<line x1="112.5" y1="265.5" x2="112.5" y2="267" stroke="#333" stroke-width="0.8"/>
<rect x="39.5" y="244" width="2" height="3" fill="#111"/>
<rect x="59" y="265" width="4" height="2" fill="#111"/>
<ellipse cx="175.5" cy="244.2" rx="10" ry="7" transform="rotate(-30 175.5 244.2)" fill="url(#g16)"/>
<ellipse cx="175.3" cy="243.8" rx="3" ry="2.2" transform="rotate(-30 175.3 243.8)" fill="url(#g17)"/>
<ellipse cx="201" cy="229.5" rx="16" ry="9.5" transform="rotate(0 201 229.5)" fill="url(#g18)"/>
<rect x="191.6" y="241.5" width="0.9" height="0.9" fill="#c8c0dc"/>
<rect x="202.4" y="240.0" width="0.9" height="0.9" fill="#c8c0dc"/>
<rect x="194.9" y="240.3" width="0.9" height="0.9" fill="#c8c0dc"/>
<rect x="199.1" y="244.3" width="0.9" height="0.9" fill="#c8c0dc"/>
<rect x="191.6" y="243.6" width="0.9" height="0.9" fill="#c8c0dc"/>
<rect x="211.7" y="238.5" width="0.9" height="0.9" fill="#c8c0dc"/>
<rect x="153.5" y="184.5" width="82" height="81" fill="none" stroke="#333" stroke-width="1.1"/>
<polyline points="186.5,184 186.5,265" fill="none" stroke="#333" stroke-width="1.25"/>
<polyline points="153,236.5 235,236.5" fill="none" stroke="#333" stroke-width="1.25"/>
<text x="193.1" y="178.7" font-size="9.65" text-anchor="middle" font-weight="normal" fill="#1a1a1a" stroke="#1a1a1a" stroke-width="0.18" >32 uM EC-134</text>
<text x="219.2" y="192.6" font-size="7" text-anchor="middle" font-weight="normal" fill="#222" stroke="#222" stroke-width="0.18" >Dead</text>
<text x="219.6" y="201.6" font-size="7" text-anchor="middle" font-weight="normal" fill="#222" stroke="#222" stroke-width="0.18" >7.10</text>
<text x="155.8" y="251.6" font-size="7" text-anchor="start" font-weight="normal" fill="#222" stroke="#222" stroke-width="0.18" >Live</text>
<text x="155.8" y="259.8" font-size="7" text-anchor="start" font-weight="normal" fill="#222" stroke="#222" stroke-width="0.18" >91.0</text>
<text x="212" y="251.6" font-size="7" text-anchor="middle" font-weight="normal" fill="#222" stroke="#222" stroke-width="0.18" >Apoptotic</text>
<text x="212" y="259.8" font-size="7" text-anchor="middle" font-weight="normal" fill="#222" stroke="#222" stroke-width="0.18" >1.78</text>
<text x="137.85" y="196.7" font-size="6.7" fill="#2a2a2a" stroke="#2a2a2a" stroke-width="0.06">10</text>
<text transform="translate(145.40 193.70) scale(0.5000)" x="0" y="0" font-size="9" fill="#333">5</text>
<text x="137.85" y="215.7" font-size="6.7" fill="#2a2a2a" stroke="#2a2a2a" stroke-width="0.06">10</text>
<text transform="translate(145.40 212.70) scale(0.5000)" x="0" y="0" font-size="9" fill="#333">4</text>
<text x="137.85" y="234.4" font-size="6.7" fill="#2a2a2a" stroke="#2a2a2a" stroke-width="0.06">10</text>
<text transform="translate(145.40 231.40) scale(0.5000)" x="0" y="0" font-size="9" fill="#333">3</text>
<text x="147.8" y="248.8" font-size="6.7" text-anchor="end" font-weight="normal" fill="#2a2a2a" stroke="#2a2a2a" stroke-width="0.06" >0</text>
<text x="133.93" y="261.7" font-size="6.7" fill="#2a2a2a" stroke="#2a2a2a" stroke-width="0.06">−10</text>
<text transform="translate(145.40 258.70) scale(0.5000)" x="0" y="0" font-size="9" fill="#333">3</text>
<text x="154.00" y="280.2" font-size="6.7" fill="#2a2a2a" stroke="#2a2a2a" stroke-width="0.06">−10</text>
<text transform="translate(165.47 277.20) scale(0.5000)" x="0" y="0" font-size="9" fill="#333">3</text>
<text x="170" y="280.2" font-size="6.7" text-anchor="start" font-weight="normal" fill="#2a2a2a" stroke="#2a2a2a" stroke-width="0.06" >0</text>
<text x="181.70" y="280.2" font-size="6.7" fill="#2a2a2a" stroke="#2a2a2a" stroke-width="0.06">10</text>
<text transform="translate(189.25 277.20) scale(0.5000)" x="0" y="0" font-size="9" fill="#333">3</text>
<text x="204.20" y="280.2" font-size="6.7" fill="#2a2a2a" stroke="#2a2a2a" stroke-width="0.06">10</text>
<text transform="translate(211.75 277.20) scale(0.5000)" x="0" y="0" font-size="9" fill="#333">4</text>
<text x="219.80" y="280.2" font-size="6.7" fill="#2a2a2a" stroke="#2a2a2a" stroke-width="0.06">10</text>
<text transform="translate(227.35 277.20) scale(0.5000)" x="0" y="0" font-size="9" fill="#333">5</text>
<line x1="152" y1="191.5" x2="153.5" y2="191.5" stroke="#333" stroke-width="0.8"/>
<line x1="152" y1="210.4" x2="153.5" y2="210.4" stroke="#333" stroke-width="0.8"/>
<line x1="152" y1="231.5" x2="153.5" y2="231.5" stroke="#333" stroke-width="0.8"/>
<line x1="152" y1="244.3" x2="153.5" y2="244.3" stroke="#333" stroke-width="0.8"/>
<line x1="152" y1="257" x2="153.5" y2="257" stroke="#333" stroke-width="0.8"/>
<line x1="161" y1="265.5" x2="161" y2="267" stroke="#333" stroke-width="0.8"/>
<line x1="172" y1="265.5" x2="172" y2="267" stroke="#333" stroke-width="0.8"/>
<line x1="187" y1="265.5" x2="187" y2="267" stroke="#333" stroke-width="0.8"/>
<line x1="209.5" y1="265.5" x2="209.5" y2="267" stroke="#333" stroke-width="0.8"/>
<line x1="224.5" y1="265.5" x2="224.5" y2="267" stroke="#333" stroke-width="0.8"/>
<rect x="151.5" y="244" width="2" height="3" fill="#111"/>
<rect x="171" y="265" width="4" height="2" fill="#111"/>
<ellipse cx="291.5" cy="240.5" rx="12" ry="8" transform="rotate(-40 291.5 240.5)" fill="url(#g19)"/>
<ellipse cx="291" cy="241.3" rx="7.5" ry="4.8" transform="rotate(-40 291 241.3)" fill="url(#g20)"/>
<ellipse cx="311" cy="232" rx="19" ry="13" transform="rotate(-20 311 232)" fill="url(#g21)"/>
<ellipse cx="315.5" cy="230.5" rx="11" ry="8" transform="rotate(-15 315.5 230.5)" fill="url(#g22)"/>
<rect x="265.5" y="184.5" width="82" height="81" fill="none" stroke="#333" stroke-width="1.1"/>
<polyline points="298.5,184 298.5,265" fill="none" stroke="#333" stroke-width="1.25"/>
<polyline points="265,236.5 347,236.5" fill="none" stroke="#333" stroke-width="1.25"/>
<text x="305.4" y="178.7" font-size="9.65" text-anchor="middle" font-weight="normal" fill="#1a1a1a" stroke="#1a1a1a" stroke-width="0.18" >60 uM EC-134</text>
<text x="331.2" y="192.6" font-size="7" text-anchor="middle" font-weight="normal" fill="#222" stroke="#222" stroke-width="0.18" >Dead</text>
<text x="331.6" y="201.6" font-size="7" text-anchor="middle" font-weight="normal" fill="#222" stroke="#222" stroke-width="0.18" >30.8</text>
<text x="267.8" y="251.6" font-size="7" text-anchor="start" font-weight="normal" fill="#222" stroke="#222" stroke-width="0.18" >Live</text>
<text x="267.8" y="259.8" font-size="7" text-anchor="start" font-weight="normal" fill="#222" stroke="#222" stroke-width="0.18" >61.7</text>
<text x="324" y="251.6" font-size="7" text-anchor="middle" font-weight="normal" fill="#222" stroke="#222" stroke-width="0.18" >Apoptotic</text>
<text x="324" y="259.8" font-size="7" text-anchor="middle" font-weight="normal" fill="#222" stroke="#222" stroke-width="0.18" >6.71</text>
<text x="249.85" y="196.7" font-size="6.7" fill="#2a2a2a" stroke="#2a2a2a" stroke-width="0.06">10</text>
<text transform="translate(257.40 193.70) scale(0.5000)" x="0" y="0" font-size="9" fill="#333">5</text>
<text x="249.85" y="215.7" font-size="6.7" fill="#2a2a2a" stroke="#2a2a2a" stroke-width="0.06">10</text>
<text transform="translate(257.40 212.70) scale(0.5000)" x="0" y="0" font-size="9" fill="#333">4</text>
<text x="249.85" y="234.4" font-size="6.7" fill="#2a2a2a" stroke="#2a2a2a" stroke-width="0.06">10</text>
<text transform="translate(257.40 231.40) scale(0.5000)" x="0" y="0" font-size="9" fill="#333">3</text>
<text x="259.8" y="248.8" font-size="6.7" text-anchor="end" font-weight="normal" fill="#2a2a2a" stroke="#2a2a2a" stroke-width="0.06" >0</text>
<text x="245.93" y="261.7" font-size="6.7" fill="#2a2a2a" stroke="#2a2a2a" stroke-width="0.06">−10</text>
<text transform="translate(257.40 258.70) scale(0.5000)" x="0" y="0" font-size="9" fill="#333">3</text>
<text x="266.00" y="280.2" font-size="6.7" fill="#2a2a2a" stroke="#2a2a2a" stroke-width="0.06">−10</text>
<text transform="translate(277.47 277.20) scale(0.5000)" x="0" y="0" font-size="9" fill="#333">3</text>
<text x="282" y="280.2" font-size="6.7" text-anchor="start" font-weight="normal" fill="#2a2a2a" stroke="#2a2a2a" stroke-width="0.06" >0</text>
<text x="293.70" y="280.2" font-size="6.7" fill="#2a2a2a" stroke="#2a2a2a" stroke-width="0.06">10</text>
<text transform="translate(301.25 277.20) scale(0.5000)" x="0" y="0" font-size="9" fill="#333">3</text>
<text x="316.20" y="280.2" font-size="6.7" fill="#2a2a2a" stroke="#2a2a2a" stroke-width="0.06">10</text>
<text transform="translate(323.75 277.20) scale(0.5000)" x="0" y="0" font-size="9" fill="#333">4</text>
<text x="331.80" y="280.2" font-size="6.7" fill="#2a2a2a" stroke="#2a2a2a" stroke-width="0.06">10</text>
<text transform="translate(339.35 277.20) scale(0.5000)" x="0" y="0" font-size="9" fill="#333">5</text>
<line x1="264" y1="191.5" x2="265.5" y2="191.5" stroke="#333" stroke-width="0.8"/>
<line x1="264" y1="210.4" x2="265.5" y2="210.4" stroke="#333" stroke-width="0.8"/>
<line x1="264" y1="231.5" x2="265.5" y2="231.5" stroke="#333" stroke-width="0.8"/>
<line x1="264" y1="244.3" x2="265.5" y2="244.3" stroke="#333" stroke-width="0.8"/>
<line x1="264" y1="257" x2="265.5" y2="257" stroke="#333" stroke-width="0.8"/>
<line x1="273" y1="265.5" x2="273" y2="267" stroke="#333" stroke-width="0.8"/>
<line x1="284" y1="265.5" x2="284" y2="267" stroke="#333" stroke-width="0.8"/>
<line x1="299" y1="265.5" x2="299" y2="267" stroke="#333" stroke-width="0.8"/>
<line x1="321.5" y1="265.5" x2="321.5" y2="267" stroke="#333" stroke-width="0.8"/>
<line x1="336.5" y1="265.5" x2="336.5" y2="267" stroke="#333" stroke-width="0.8"/>
<rect x="263.5" y="244" width="2" height="3" fill="#111"/>
<rect x="283" y="265" width="4" height="2" fill="#111"/>
<ellipse cx="63.5" cy="374.5" rx="7" ry="10" transform="rotate(12 63.5 374.5)" fill="url(#g23)"/>
<ellipse cx="63.2" cy="375.2" rx="3.8" ry="5.5" transform="rotate(12 63.2 375.2)" fill="url(#g24)"/>
<ellipse cx="90.6" cy="353.5" rx="5" ry="6" transform="rotate(0 90.6 353.5)" fill="url(#g25)"/>
<rect x="78.8" y="347.9" width="1.6" height="1.6" fill="#111"/>
<rect x="79.6" y="347.5" width="1.6" height="1.6" fill="#111"/>
<rect x="87.5" y="346.5" width="1.6" height="1.6" fill="#111"/>
<rect x="91.7" y="344.2" width="1.6" height="1.6" fill="#111"/>
<rect x="94.0" y="345.6" width="1.6" height="1.6" fill="#111"/>
<rect x="93.5" y="347.0" width="1.6" height="1.6" fill="#111"/>
<rect x="95.8" y="349.2" width="1.6" height="1.6" fill="#111"/>
<rect x="75.2" y="350.7" width="1.6" height="1.6" fill="#111"/>
<rect x="82.5" y="352.5" width="1.6" height="1.6" fill="#111"/>
<rect x="85.2" y="352.0" width="1.6" height="1.6" fill="#111"/>
<rect x="78.8" y="354.3" width="1.6" height="1.6" fill="#111"/>
<rect x="74.7" y="355.7" width="1.6" height="1.6" fill="#111"/>
<rect x="83.0" y="357.1" width="1.6" height="1.6" fill="#111"/>
<rect x="83.7" y="357.6" width="1.6" height="1.6" fill="#111"/>
<rect x="88.5" y="359.8" width="1.6" height="1.6" fill="#111"/>
<rect x="88.5" y="361.0" width="1.6" height="1.6" fill="#111"/>
<rect x="92.1" y="362.6" width="1.6" height="1.6" fill="#111"/>
<rect x="75.6" y="362.6" width="1.6" height="1.6" fill="#111"/>
<rect x="90.3" y="366.2" width="1.6" height="1.6" fill="#111"/>
<rect x="83.9" y="369.5" width="1.6" height="1.6" fill="#111"/>
<rect x="87.1" y="368.6" width="1.6" height="1.6" fill="#111"/>
<rect x="91.2" y="369.0" width="1.6" height="1.6" fill="#111"/>
<rect x="73.3" y="373.2" width="1.6" height="1.6" fill="#111"/>
<rect x="81.1" y="372.7" width="1.6" height="1.6" fill="#111"/>
<rect x="80.7" y="374.5" width="1.6" height="1.6" fill="#111"/>
<rect x="85.2" y="374.1" width="1.6" height="1.6" fill="#111"/>
<rect x="85.8" y="373.4" width="1.6" height="1.6" fill="#111"/>
<rect x="77.5" y="375.4" width="1.6" height="1.6" fill="#111"/>
<rect x="92.6" y="373.6" width="1.6" height="1.6" fill="#111"/>
<rect x="41.5" y="320.5" width="79" height="78" fill="none" stroke="#333" stroke-width="1.1"/>
<polyline points="74.3,320 72.4,367.2 67.4,398" fill="none" stroke="#333" stroke-width="1.25"/>
<polyline points="41,367.2 120,367.4" fill="none" stroke="#333" stroke-width="1.25"/>
<text x="80.8" y="314.7" font-size="9.65" text-anchor="middle" font-weight="normal" fill="#1a1a1a" stroke="#1a1a1a" stroke-width="0.18" >DMSO</text>
<text x="107.2" y="328.6" font-size="7" text-anchor="middle" font-weight="normal" fill="#222" stroke="#222" stroke-width="0.18" >Dead</text>
<text x="107.6" y="337.6" font-size="7" text-anchor="middle" font-weight="normal" fill="#222" stroke="#222" stroke-width="0.18" >2.18</text>
<text x="43.8" y="384.6" font-size="7" text-anchor="start" font-weight="normal" fill="#222" stroke="#222" stroke-width="0.18" >Live</text>
<text x="43.8" y="392.8" font-size="7" text-anchor="start" font-weight="normal" fill="#222" stroke="#222" stroke-width="0.18" >96.9</text>
<text x="100" y="384.6" font-size="7" text-anchor="middle" font-weight="normal" fill="#222" stroke="#222" stroke-width="0.18" >Apoptotic</text>
<text x="100" y="392.8" font-size="7" text-anchor="middle" font-weight="normal" fill="#222" stroke="#222" stroke-width="0.18" >0.53</text>
<text x="25.85" y="332.7" font-size="6.7" fill="#2a2a2a" stroke="#2a2a2a" stroke-width="0.06">10</text>
<text transform="translate(33.40 329.70) scale(0.5000)" x="0" y="0" font-size="9" fill="#333">5</text>
<text x="25.85" y="351.7" font-size="6.7" fill="#2a2a2a" stroke="#2a2a2a" stroke-width="0.06">10</text>
<text transform="translate(33.40 348.70) scale(0.5000)" x="0" y="0" font-size="9" fill="#333">4</text>
<text x="25.85" y="370.4" font-size="6.7" fill="#2a2a2a" stroke="#2a2a2a" stroke-width="0.06">10</text>
<text transform="translate(33.40 367.40) scale(0.5000)" x="0" y="0" font-size="9" fill="#333">3</text>
<text x="35.8" y="384.8" font-size="6.7" text-anchor="end" font-weight="normal" fill="#2a2a2a" stroke="#2a2a2a" stroke-width="0.06" >0</text>
<text x="21.93" y="397.7" font-size="6.7" fill="#2a2a2a" stroke="#2a2a2a" stroke-width="0.06">−10</text>
<text transform="translate(33.40 394.70) scale(0.5000)" x="0" y="0" font-size="9" fill="#333">3</text>
<text x="42.00" y="413.2" font-size="6.7" fill="#2a2a2a" stroke="#2a2a2a" stroke-width="0.06">−10</text>
<text transform="translate(53.47 410.20) scale(0.5000)" x="0" y="0" font-size="9" fill="#333">3</text>
<text x="58" y="413.2" font-size="6.7" text-anchor="start" font-weight="normal" fill="#2a2a2a" stroke="#2a2a2a" stroke-width="0.06" >0</text>
<text x="69.70" y="413.2" font-size="6.7" fill="#2a2a2a" stroke="#2a2a2a" stroke-width="0.06">10</text>
<text transform="translate(77.25 410.20) scale(0.5000)" x="0" y="0" font-size="9" fill="#333">3</text>
<text x="92.20" y="413.2" font-size="6.7" fill="#2a2a2a" stroke="#2a2a2a" stroke-width="0.06">10</text>
<text transform="translate(99.75 410.20) scale(0.5000)" x="0" y="0" font-size="9" fill="#333">4</text>
<text x="107.80" y="413.2" font-size="6.7" fill="#2a2a2a" stroke="#2a2a2a" stroke-width="0.06">10</text>
<text transform="translate(115.35 410.20) scale(0.5000)" x="0" y="0" font-size="9" fill="#333">5</text>
<line x1="40" y1="327.5" x2="41.5" y2="327.5" stroke="#333" stroke-width="0.8"/>
<line x1="40" y1="346.4" x2="41.5" y2="346.4" stroke="#333" stroke-width="0.8"/>
<line x1="40" y1="367.5" x2="41.5" y2="367.5" stroke="#333" stroke-width="0.8"/>
<line x1="40" y1="380.3" x2="41.5" y2="380.3" stroke="#333" stroke-width="0.8"/>
<line x1="40" y1="393" x2="41.5" y2="393" stroke="#333" stroke-width="0.8"/>
<line x1="49" y1="398.5" x2="49" y2="400" stroke="#333" stroke-width="0.8"/>
<line x1="60" y1="398.5" x2="60" y2="400" stroke="#333" stroke-width="0.8"/>
<line x1="75" y1="398.5" x2="75" y2="400" stroke="#333" stroke-width="0.8"/>
<line x1="97.5" y1="398.5" x2="97.5" y2="400" stroke="#333" stroke-width="0.8"/>
<line x1="112.5" y1="398.5" x2="112.5" y2="400" stroke="#333" stroke-width="0.8"/>
<rect x="39.5" y="380" width="2" height="3" fill="#111"/>
<rect x="59" y="398" width="4" height="2" fill="#111"/>
<ellipse cx="176.5" cy="373" rx="8.5" ry="11" transform="rotate(18 176.5 373)" fill="url(#g26)"/>
<ellipse cx="176" cy="373.8" rx="5" ry="7.5" transform="rotate(18 176 373.8)" fill="url(#g27)"/>
<ellipse cx="199" cy="363" rx="13" ry="15" transform="rotate(0 199 363)" fill="url(#g28)"/>
<rect x="195.8" y="341.6" width="1.4" height="1.4" fill="#1a2a90"/>
<rect x="196.7" y="343.4" width="1.4" height="1.4" fill="#1a2a90"/>
<rect x="194.0" y="346.6" width="1.4" height="1.4" fill="#1a2a90"/>
<rect x="195.3" y="348.0" width="1.4" height="1.4" fill="#1a2a90"/>
<rect x="197.6" y="347.6" width="1.4" height="1.4" fill="#1a2a90"/>
<rect x="199.0" y="348.5" width="1.4" height="1.4" fill="#1a2a90"/>
<rect x="201.3" y="347.1" width="1.4" height="1.4" fill="#1a2a90"/>
<rect x="203.2" y="347.6" width="1.4" height="1.4" fill="#1a2a90"/>
<rect x="204.5" y="348.9" width="1.4" height="1.4" fill="#1a2a90"/>
<rect x="205.9" y="348.5" width="1.4" height="1.4" fill="#1a2a90"/>
<rect x="189.9" y="351.2" width="1.4" height="1.4" fill="#1a2a90"/>
<rect x="188.9" y="353.5" width="1.4" height="1.4" fill="#1a2a90"/>
<rect x="188.5" y="355.3" width="1.4" height="1.4" fill="#1a2a90"/>
<rect x="184.8" y="353.1" width="1.4" height="1.4" fill="#1a2a90"/>
<rect x="182.1" y="359.0" width="1.4" height="1.4" fill="#1a2a90"/>
<rect x="188.5" y="358.6" width="1.4" height="1.4" fill="#1a2a90"/>
<rect x="193.1" y="376.0" width="1.4" height="1.4" fill="#1a2a90"/>
<rect x="196.7" y="375.5" width="1.4" height="1.4" fill="#1a2a90"/>
<rect x="199.9" y="375.5" width="1.4" height="1.4" fill="#1a2a90"/>
<rect x="202.7" y="374.6" width="1.4" height="1.4" fill="#1a2a90"/>
<rect x="207.3" y="368.2" width="1.4" height="1.4" fill="#1a2a90"/>
<rect x="190.3" y="352.1" width="1.4" height="1.4" fill="#1a2a90"/>
<rect x="189.3" y="354.3" width="1.4" height="1.4" fill="#1a2a90"/>
<rect x="153.5" y="320.5" width="78" height="78" fill="none" stroke="#333" stroke-width="1.1"/>
<polyline points="186.1,320 184.2,367.2 179.2,398" fill="none" stroke="#333" stroke-width="1.25"/>
<polyline points="153,367.2 231,367.2" fill="none" stroke="#333" stroke-width="1.25"/>
<text x="193.3" y="314.7" font-size="9.65" text-anchor="middle" font-weight="normal" fill="#1a1a1a" stroke="#1a1a1a" stroke-width="0.18" >10 uM BDA-41</text>
<text x="219.2" y="328.6" font-size="7" text-anchor="middle" font-weight="normal" fill="#222" stroke="#222" stroke-width="0.18" >Dead</text>
<text x="219.6" y="337.6" font-size="7" text-anchor="middle" font-weight="normal" fill="#222" stroke="#222" stroke-width="0.18" >11.6</text>
<text x="155.8" y="384.6" font-size="7" text-anchor="start" font-weight="normal" fill="#222" stroke="#222" stroke-width="0.18" >Live</text>
<text x="155.8" y="392.8" font-size="7" text-anchor="start" font-weight="normal" fill="#222" stroke="#222" stroke-width="0.18" >81.3</text>
<text x="212" y="384.6" font-size="7" text-anchor="middle" font-weight="normal" fill="#222" stroke="#222" stroke-width="0.18" >Apoptotic</text>
<text x="212" y="392.8" font-size="7" text-anchor="middle" font-weight="normal" fill="#222" stroke="#222" stroke-width="0.18" >6.12</text>
<text x="137.85" y="332.7" font-size="6.7" fill="#2a2a2a" stroke="#2a2a2a" stroke-width="0.06">10</text>
<text transform="translate(145.40 329.70) scale(0.5000)" x="0" y="0" font-size="9" fill="#333">5</text>
<text x="137.85" y="351.7" font-size="6.7" fill="#2a2a2a" stroke="#2a2a2a" stroke-width="0.06">10</text>
<text transform="translate(145.40 348.70) scale(0.5000)" x="0" y="0" font-size="9" fill="#333">4</text>
<text x="137.85" y="370.4" font-size="6.7" fill="#2a2a2a" stroke="#2a2a2a" stroke-width="0.06">10</text>
<text transform="translate(145.40 367.40) scale(0.5000)" x="0" y="0" font-size="9" fill="#333">3</text>
<text x="147.8" y="384.8" font-size="6.7" text-anchor="end" font-weight="normal" fill="#2a2a2a" stroke="#2a2a2a" stroke-width="0.06" >0</text>
<text x="133.93" y="397.7" font-size="6.7" fill="#2a2a2a" stroke="#2a2a2a" stroke-width="0.06">−10</text>
<text transform="translate(145.40 394.70) scale(0.5000)" x="0" y="0" font-size="9" fill="#333">3</text>
<text x="154.00" y="413.2" font-size="6.7" fill="#2a2a2a" stroke="#2a2a2a" stroke-width="0.06">−10</text>
<text transform="translate(165.47 410.20) scale(0.5000)" x="0" y="0" font-size="9" fill="#333">3</text>
<text x="170" y="413.2" font-size="6.7" text-anchor="start" font-weight="normal" fill="#2a2a2a" stroke="#2a2a2a" stroke-width="0.06" >0</text>
<text x="181.70" y="413.2" font-size="6.7" fill="#2a2a2a" stroke="#2a2a2a" stroke-width="0.06">10</text>
<text transform="translate(189.25 410.20) scale(0.5000)" x="0" y="0" font-size="9" fill="#333">3</text>
<text x="204.20" y="413.2" font-size="6.7" fill="#2a2a2a" stroke="#2a2a2a" stroke-width="0.06">10</text>
<text transform="translate(211.75 410.20) scale(0.5000)" x="0" y="0" font-size="9" fill="#333">4</text>
<text x="219.80" y="413.2" font-size="6.7" fill="#2a2a2a" stroke="#2a2a2a" stroke-width="0.06">10</text>
<text transform="translate(227.35 410.20) scale(0.5000)" x="0" y="0" font-size="9" fill="#333">5</text>
<line x1="152" y1="327.5" x2="153.5" y2="327.5" stroke="#333" stroke-width="0.8"/>
<line x1="152" y1="346.4" x2="153.5" y2="346.4" stroke="#333" stroke-width="0.8"/>
<line x1="152" y1="367.5" x2="153.5" y2="367.5" stroke="#333" stroke-width="0.8"/>
<line x1="152" y1="380.3" x2="153.5" y2="380.3" stroke="#333" stroke-width="0.8"/>
<line x1="152" y1="393" x2="153.5" y2="393" stroke="#333" stroke-width="0.8"/>
<line x1="161" y1="398.5" x2="161" y2="400" stroke="#333" stroke-width="0.8"/>
<line x1="172" y1="398.5" x2="172" y2="400" stroke="#333" stroke-width="0.8"/>
<line x1="187" y1="398.5" x2="187" y2="400" stroke="#333" stroke-width="0.8"/>
<line x1="209.5" y1="398.5" x2="209.5" y2="400" stroke="#333" stroke-width="0.8"/>
<line x1="224.5" y1="398.5" x2="224.5" y2="400" stroke="#333" stroke-width="0.8"/>
<rect x="151.5" y="380" width="2" height="3" fill="#111"/>
<rect x="171" y="398" width="4" height="2" fill="#111"/>
<ellipse cx="303" cy="358" rx="22" ry="12" transform="rotate(-62 303 358)" fill="url(#g29)"/>
<ellipse cx="289.2" cy="374" rx="6.5" ry="4" transform="rotate(-55 289.2 374)" fill="url(#g30)"/>
<ellipse cx="303" cy="360" rx="10" ry="7" transform="rotate(-60 303 360)" fill="url(#g31)"/>
<rect x="290.2" y="355.4" width="1.2" height="1.2" fill="#1a2a90"/>
<rect x="312.9" y="359.0" width="1.2" height="1.2" fill="#1a2a90"/>
<rect x="315.4" y="358.0" width="1.2" height="1.2" fill="#1a2a90"/>
<rect x="315.4" y="361.0" width="1.2" height="1.2" fill="#1a2a90"/>
<rect x="312.9" y="362.6" width="1.2" height="1.2" fill="#1a2a90"/>
<rect x="308.3" y="370.4" width="1.2" height="1.2" fill="#1a2a90"/>
<rect x="297.4" y="376.4" width="1.2" height="1.2" fill="#1a2a90"/>
<rect x="265.5" y="320.5" width="79" height="78" fill="none" stroke="#333" stroke-width="1.1"/>
<polyline points="298.5,320 297.3,367.2 291.9,398" fill="none" stroke="#333" stroke-width="1.25"/>
<polyline points="265,367.2 344,367.2" fill="none" stroke="#333" stroke-width="1.25"/>
<text x="305.4" y="314.7" font-size="9.65" text-anchor="middle" font-weight="normal" fill="#1a1a1a" stroke="#1a1a1a" stroke-width="0.18" >12 uM BDA-41</text>
<text x="331.2" y="328.6" font-size="7" text-anchor="middle" font-weight="normal" fill="#222" stroke="#222" stroke-width="0.18" >Dead</text>
<text x="331.6" y="337.6" font-size="7" text-anchor="middle" font-weight="normal" fill="#222" stroke="#222" stroke-width="0.18" >47.2</text>
<text x="267.8" y="384.6" font-size="7" text-anchor="start" font-weight="normal" fill="#222" stroke="#222" stroke-width="0.18" >Live</text>
<text x="267.8" y="392.8" font-size="7" text-anchor="start" font-weight="normal" fill="#222" stroke="#222" stroke-width="0.18" >36.9</text>
<text x="324" y="384.6" font-size="7" text-anchor="middle" font-weight="normal" fill="#222" stroke="#222" stroke-width="0.18" >Apoptotic</text>
<text x="324" y="392.8" font-size="7" text-anchor="middle" font-weight="normal" fill="#222" stroke="#222" stroke-width="0.18" >9.87</text>
<text x="249.85" y="332.7" font-size="6.7" fill="#2a2a2a" stroke="#2a2a2a" stroke-width="0.06">10</text>
<text transform="translate(257.40 329.70) scale(0.5000)" x="0" y="0" font-size="9" fill="#333">5</text>
<text x="249.85" y="351.7" font-size="6.7" fill="#2a2a2a" stroke="#2a2a2a" stroke-width="0.06">10</text>
<text transform="translate(257.40 348.70) scale(0.5000)" x="0" y="0" font-size="9" fill="#333">4</text>
<text x="249.85" y="370.4" font-size="6.7" fill="#2a2a2a" stroke="#2a2a2a" stroke-width="0.06">10</text>
<text transform="translate(257.40 367.40) scale(0.5000)" x="0" y="0" font-size="9" fill="#333">3</text>
<text x="259.8" y="384.8" font-size="6.7" text-anchor="end" font-weight="normal" fill="#2a2a2a" stroke="#2a2a2a" stroke-width="0.06" >0</text>
<text x="245.93" y="397.7" font-size="6.7" fill="#2a2a2a" stroke="#2a2a2a" stroke-width="0.06">−10</text>
<text transform="translate(257.40 394.70) scale(0.5000)" x="0" y="0" font-size="9" fill="#333">3</text>
<text x="266.00" y="413.2" font-size="6.7" fill="#2a2a2a" stroke="#2a2a2a" stroke-width="0.06">−10</text>
<text transform="translate(277.47 410.20) scale(0.5000)" x="0" y="0" font-size="9" fill="#333">3</text>
<text x="282" y="413.2" font-size="6.7" text-anchor="start" font-weight="normal" fill="#2a2a2a" stroke="#2a2a2a" stroke-width="0.06" >0</text>
<text x="293.70" y="413.2" font-size="6.7" fill="#2a2a2a" stroke="#2a2a2a" stroke-width="0.06">10</text>
<text transform="translate(301.25 410.20) scale(0.5000)" x="0" y="0" font-size="9" fill="#333">3</text>
<text x="316.20" y="413.2" font-size="6.7" fill="#2a2a2a" stroke="#2a2a2a" stroke-width="0.06">10</text>
<text transform="translate(323.75 410.20) scale(0.5000)" x="0" y="0" font-size="9" fill="#333">4</text>
<text x="331.80" y="413.2" font-size="6.7" fill="#2a2a2a" stroke="#2a2a2a" stroke-width="0.06">10</text>
<text transform="translate(339.35 410.20) scale(0.5000)" x="0" y="0" font-size="9" fill="#333">5</text>
<line x1="264" y1="327.5" x2="265.5" y2="327.5" stroke="#333" stroke-width="0.8"/>
<line x1="264" y1="346.4" x2="265.5" y2="346.4" stroke="#333" stroke-width="0.8"/>
<line x1="264" y1="367.5" x2="265.5" y2="367.5" stroke="#333" stroke-width="0.8"/>
<line x1="264" y1="380.3" x2="265.5" y2="380.3" stroke="#333" stroke-width="0.8"/>
<line x1="264" y1="393" x2="265.5" y2="393" stroke="#333" stroke-width="0.8"/>
<line x1="273" y1="398.5" x2="273" y2="400" stroke="#333" stroke-width="0.8"/>
<line x1="284" y1="398.5" x2="284" y2="400" stroke="#333" stroke-width="0.8"/>
<line x1="299" y1="398.5" x2="299" y2="400" stroke="#333" stroke-width="0.8"/>
<line x1="321.5" y1="398.5" x2="321.5" y2="400" stroke="#333" stroke-width="0.8"/>
<line x1="336.5" y1="398.5" x2="336.5" y2="400" stroke="#333" stroke-width="0.8"/>
<rect x="263.5" y="380" width="2" height="3" fill="#111"/>
<rect x="283" y="398" width="4" height="2" fill="#111"/>
<text x="0" y="0" font-size="8.5" font-weight="bold" fill="#222" stroke="#222" stroke-width="0.25" transform="translate(40.8 158.5) scale(0.66 1) skewX(-6)">AnnexinV</text>
<text x="0" y="0" font-size="9.5" font-weight="bold" fill="#222" text-anchor="middle" stroke="#222" stroke-width="0.25" transform="translate(15.6 122.8) rotate(-90) scale(0.62 1)">7AAD</text>
<text x="0" y="0" font-size="8.5" font-weight="bold" fill="#222" stroke="#222" stroke-width="0.25" transform="translate(40.8 293.5) scale(0.66 1) skewX(-6)">AnnexinV</text>
<text x="0" y="0" font-size="9.5" font-weight="bold" fill="#222" text-anchor="middle" stroke="#222" stroke-width="0.25" transform="translate(15.6 254.6) rotate(-90) scale(0.62 1)">7AAD</text>
<text x="0" y="0" font-size="8.5" font-weight="bold" fill="#222" stroke="#222" stroke-width="0.25" transform="translate(40.8 426.5) scale(0.66 1) skewX(-6)">AnnexinV</text>
<text x="0" y="0" font-size="9.5" font-weight="bold" fill="#222" text-anchor="middle" stroke="#222" stroke-width="0.25" transform="translate(15.6 390.3) rotate(-90) scale(0.62 1)">7AAD</text>
<text x="364.4" y="19.0" font-size="12.8" text-anchor="start" font-weight="bold" fill="#111" stroke="#111" stroke-width="0.18" >K</text>
<text x="454.5" y="33.1" font-size="9.35" text-anchor="middle" font-weight="normal" fill="#1a1a1a" stroke="#1a1a1a" stroke-width="0.18" >OCI-AML3 (AML)</text>
<text x="454.8" y="44" font-size="9.3" text-anchor="middle" font-weight="normal" fill="#1a1a1a" stroke="#1a1a1a" stroke-width="0.18" >APOPTOSIS</text>
<line x1="397.5" y1="57" x2="397.5" y2="155.4" stroke="#222" stroke-width="1"/>
<line x1="394" y1="155.4" x2="506" y2="155.4" stroke="#222" stroke-width="1"/>
<line x1="394" y1="155.4" x2="397.5" y2="155.4" stroke="#222" stroke-width="1"/>
<text x="391" y="157.8" font-size="6.9" text-anchor="end" font-weight="normal" fill="#222" stroke="#222" stroke-width="0.18" >0</text>
<line x1="394" y1="137.7" x2="397.5" y2="137.7" stroke="#222" stroke-width="1"/>
<text x="391" y="140.10000000000002" font-size="6.9" text-anchor="end" font-weight="normal" fill="#222" stroke="#222" stroke-width="0.18" >20</text>
<line x1="394" y1="120.0" x2="397.5" y2="120.0" stroke="#222" stroke-width="1"/>
<text x="391" y="122.4" font-size="6.9" text-anchor="end" font-weight="normal" fill="#222" stroke="#222" stroke-width="0.18" >40</text>
<line x1="394" y1="102.3" x2="397.5" y2="102.3" stroke="#222" stroke-width="1"/>
<text x="391" y="104.70000000000002" font-size="6.9" text-anchor="end" font-weight="normal" fill="#222" stroke="#222" stroke-width="0.18" >60</text>
<line x1="394" y1="84.6" x2="397.5" y2="84.6" stroke="#222" stroke-width="1"/>
<text x="391" y="87.00000000000001" font-size="6.9" text-anchor="end" font-weight="normal" fill="#222" stroke="#222" stroke-width="0.18" >80</text>
<line x1="394" y1="66.9" x2="397.5" y2="66.9" stroke="#222" stroke-width="1"/>
<text x="391" y="69.30000000000001" font-size="6.9" text-anchor="end" font-weight="normal" fill="#222" stroke="#222" stroke-width="0.18" >100</text>
<text x="0" y="0" font-size="7.6" fill="#222" stroke="#222" stroke-width="0.15" text-anchor="middle" transform="translate(372.6 106.2) rotate(-90)">% of cells</text>
<rect x="404.1" y="73.1" width="10" height="82.3" fill="#5e1f6c"/>
<rect x="404.1" y="72.2" width="10" height="0.9" fill="#f9bf00"/>
<rect x="404.1" y="67.8" width="10" height="4.4" fill="#673c12"/>
<line x1="409.1" y1="72.2" x2="409.1" y2="73.1" stroke="#4a3a4a" stroke-width="0.75"/>
<line x1="406.1" y1="72.2" x2="412.1" y2="72.2" stroke="#4a3a4a" stroke-width="0.75"/>
<line x1="409.1" y1="70.4" x2="409.1" y2="72.2" stroke="#e0b040" stroke-width="0.75"/>
<line x1="406.1" y1="70.4" x2="412.1" y2="70.4" stroke="#e0b040" stroke-width="0.75"/>
<line x1="409.1" y1="66.5" x2="409.1" y2="67.8" stroke="#7a6a5a" stroke-width="0.75"/>
<line x1="406.1" y1="66.5" x2="412.1" y2="66.5" stroke="#7a6a5a" stroke-width="0.75"/>
<line x1="409.1" y1="155.4" x2="409.1" y2="157.9" stroke="#222" stroke-width="0.8"/>
<text x="0" y="0" font-size="7" fill="#222" stroke="#222" stroke-width="0.18" text-anchor="end" transform="translate(412.40000000000003 165.20000000000002) rotate(-45)">DMSO</text>
<rect x="419.3" y="86.4" width="10" height="69.0" fill="#5e1f6c"/>
<rect x="419.3" y="74.9" width="10" height="11.5" fill="#f9bf00"/>
<rect x="419.3" y="69.0" width="10" height="5.8" fill="#673c12"/>
<line x1="424.3" y1="79.0" x2="424.3" y2="86.4" stroke="#4a3a4a" stroke-width="0.75"/>
<line x1="421.3" y1="79.0" x2="427.3" y2="79.0" stroke="#4a3a4a" stroke-width="0.75"/>
<line x1="424.3" y1="70.9" x2="424.3" y2="74.9" stroke="#e0b040" stroke-width="0.75"/>
<line x1="421.3" y1="70.9" x2="427.3" y2="70.9" stroke="#e0b040" stroke-width="0.75"/>
<line x1="424.3" y1="65.4" x2="424.3" y2="69.0" stroke="#7a6a5a" stroke-width="0.75"/>
<line x1="421.3" y1="65.4" x2="427.3" y2="65.4" stroke="#7a6a5a" stroke-width="0.75"/>
<line x1="424.3" y1="155.4" x2="424.3" y2="157.9" stroke="#222" stroke-width="0.8"/>
<text x="0" y="0" font-size="7" fill="#222" stroke="#222" stroke-width="0.18" text-anchor="end" transform="translate(427.6 165.20000000000002) rotate(-45)">5 uM MS452</text>
<rect x="434.5" y="138.3" width="10" height="17.1" fill="#5e1f6c"/>
<rect x="434.5" y="101.6" width="10" height="36.7" fill="#f9bf00"/>
<rect x="434.5" y="69.2" width="10" height="32.4" fill="#673c12"/>
<line x1="439.5" y1="129.2" x2="439.5" y2="138.3" stroke="#4a3a4a" stroke-width="0.75"/>
<line x1="436.5" y1="129.2" x2="442.5" y2="129.2" stroke="#4a3a4a" stroke-width="0.75"/>
<line x1="439.5" y1="97.3" x2="439.5" y2="101.6" stroke="#e0b040" stroke-width="0.75"/>
<line x1="436.5" y1="97.3" x2="442.5" y2="97.3" stroke="#e0b040" stroke-width="0.75"/>
<line x1="439.5" y1="64.0" x2="439.5" y2="69.2" stroke="#7a6a5a" stroke-width="0.75"/>
<line x1="436.5" y1="64.0" x2="442.5" y2="64.0" stroke="#7a6a5a" stroke-width="0.75"/>
<line x1="439.5" y1="155.4" x2="439.5" y2="157.9" stroke="#222" stroke-width="0.8"/>
<text x="0" y="0" font-size="7" fill="#222" stroke="#222" stroke-width="0.18" text-anchor="end" transform="translate(442.8 165.20000000000002) rotate(-45)">20 uM MS452</text>
<rect x="449.70000000000005" y="75.4" width="10" height="80.0" fill="#5e1f6c"/>
<rect x="449.70000000000005" y="74.2" width="10" height="1.2" fill="#f9bf00"/>
<rect x="449.70000000000005" y="68.1" width="10" height="6.0" fill="#673c12"/>
<line x1="454.70000000000005" y1="74.4" x2="454.70000000000005" y2="75.4" stroke="#4a3a4a" stroke-width="0.75"/>
<line x1="451.70000000000005" y1="74.4" x2="457.70000000000005" y2="74.4" stroke="#4a3a4a" stroke-width="0.75"/>
<line x1="454.70000000000005" y1="72.0" x2="454.70000000000005" y2="74.2" stroke="#e0b040" stroke-width="0.75"/>
<line x1="451.70000000000005" y1="72.0" x2="457.70000000000005" y2="72.0" stroke="#e0b040" stroke-width="0.75"/>
<line x1="454.70000000000005" y1="66.7" x2="454.70000000000005" y2="68.1" stroke="#7a6a5a" stroke-width="0.75"/>
<line x1="451.70000000000005" y1="66.7" x2="457.70000000000005" y2="66.7" stroke="#7a6a5a" stroke-width="0.75"/>
<line x1="454.70000000000005" y1="155.4" x2="454.70000000000005" y2="157.9" stroke="#222" stroke-width="0.8"/>
<text x="0" y="0" font-size="7" fill="#222" stroke="#222" stroke-width="0.18" text-anchor="end" transform="translate(458.00000000000006 165.20000000000002) rotate(-45)">32 uM EC-134</text>
<rect x="464.90000000000003" y="91.9" width="10" height="63.5" fill="#5e1f6c"/>
<rect x="464.90000000000003" y="86.8" width="10" height="5.1" fill="#f9bf00"/>
<rect x="464.90000000000003" y="69.0" width="10" height="17.8" fill="#673c12"/>
<line x1="469.90000000000003" y1="89.0" x2="469.90000000000003" y2="91.9" stroke="#4a3a4a" stroke-width="0.75"/>
<line x1="466.90000000000003" y1="89.0" x2="472.90000000000003" y2="89.0" stroke="#4a3a4a" stroke-width="0.75"/>
<line x1="469.90000000000003" y1="85.0" x2="469.90000000000003" y2="86.8" stroke="#e0b040" stroke-width="0.75"/>
<line x1="466.90000000000003" y1="85.0" x2="472.90000000000003" y2="85.0" stroke="#e0b040" stroke-width="0.75"/>
<line x1="469.90000000000003" y1="62.1" x2="469.90000000000003" y2="69.0" stroke="#7a6a5a" stroke-width="0.75"/>
<line x1="466.90000000000003" y1="62.1" x2="472.90000000000003" y2="62.1" stroke="#7a6a5a" stroke-width="0.75"/>
<line x1="469.90000000000003" y1="155.4" x2="469.90000000000003" y2="157.9" stroke="#222" stroke-width="0.8"/>
<text x="0" y="0" font-size="7" fill="#222" stroke="#222" stroke-width="0.18" text-anchor="end" transform="translate(473.20000000000005 165.20000000000002) rotate(-45)">60 uM EC-134</text>
<rect x="480.1" y="88.1" width="10" height="67.3" fill="#5e1f6c"/>
<rect x="480.1" y="82.8" width="10" height="5.3" fill="#f9bf00"/>
<rect x="480.1" y="69.0" width="10" height="13.8" fill="#673c12"/>
<line x1="485.1" y1="86.2" x2="485.1" y2="88.1" stroke="#4a3a4a" stroke-width="0.75"/>
<line x1="482.1" y1="86.2" x2="488.1" y2="86.2" stroke="#4a3a4a" stroke-width="0.75"/>
<line x1="485.1" y1="81.5" x2="485.1" y2="82.8" stroke="#e0b040" stroke-width="0.75"/>
<line x1="482.1" y1="81.5" x2="488.1" y2="81.5" stroke="#e0b040" stroke-width="0.75"/>
<line x1="485.1" y1="63.2" x2="485.1" y2="69.0" stroke="#7a6a5a" stroke-width="0.75"/>
<line x1="482.1" y1="63.2" x2="488.1" y2="63.2" stroke="#7a6a5a" stroke-width="0.75"/>
<line x1="485.1" y1="155.4" x2="485.1" y2="157.9" stroke="#222" stroke-width="0.8"/>
<text x="0" y="0" font-size="7" fill="#222" stroke="#222" stroke-width="0.18" text-anchor="end" transform="translate(488.40000000000003 165.20000000000002) rotate(-45)">10 uM BDA-41</text>
<rect x="495.3" y="133.0" width="10" height="22.4" fill="#5e1f6c"/>
<rect x="495.3" y="123.4" width="10" height="9.6" fill="#f9bf00"/>
<rect x="495.3" y="72.0" width="10" height="51.3" fill="#673c12"/>
<line x1="500.3" y1="128.8" x2="500.3" y2="133.0" stroke="#4a3a4a" stroke-width="0.75"/>
<line x1="497.3" y1="128.8" x2="503.3" y2="128.8" stroke="#4a3a4a" stroke-width="0.75"/>
<line x1="500.3" y1="122.2" x2="500.3" y2="123.4" stroke="#e0b040" stroke-width="0.75"/>
<line x1="497.3" y1="122.2" x2="503.3" y2="122.2" stroke="#e0b040" stroke-width="0.75"/>
<line x1="500.3" y1="66.5" x2="500.3" y2="72.0" stroke="#7a6a5a" stroke-width="0.75"/>
<line x1="497.3" y1="66.5" x2="503.3" y2="66.5" stroke="#7a6a5a" stroke-width="0.75"/>
<line x1="500.3" y1="155.4" x2="500.3" y2="157.9" stroke="#222" stroke-width="0.8"/>
<text x="0" y="0" font-size="7" fill="#222" stroke="#222" stroke-width="0.18" text-anchor="end" transform="translate(503.6 165.20000000000002) rotate(-45)">12 uM BDA-41</text>
<circle cx="436.8" cy="51.8" r="0.9" fill="#555"/>
<circle cx="442.2" cy="51.8" r="0.9" fill="#e8d0a0"/>
<circle cx="439.5" cy="57.8" r="0.9" fill="#555"/>
<circle cx="467.20000000000005" cy="51.8" r="0.9" fill="#555"/>
<circle cx="472.6" cy="51.8" r="0.9" fill="#e8d0a0"/>
<circle cx="469.90000000000003" cy="57.8" r="0.9" fill="#555"/>
<circle cx="482.40000000000003" cy="51.8" r="0.9" fill="#555"/>
<circle cx="487.8" cy="51.8" r="0.9" fill="#e8d0a0"/>
<circle cx="485.1" cy="57.8" r="0.9" fill="#555"/>
<circle cx="497.6" cy="51.8" r="0.9" fill="#555"/>
<circle cx="503.0" cy="51.8" r="0.9" fill="#e8d0a0"/>
<circle cx="500.3" cy="57.8" r="0.9" fill="#555"/>
<rect x="430.5" y="204.6" width="6.4" height="6.2" fill="#5e1f6c"/>
<text x="440.6" y="210.9" font-size="9.1" text-anchor="start" font-weight="normal" fill="#1a1a1a" stroke="#1a1a1a" stroke-width="0.18" >Live</text>
<rect x="430.5" y="218.4" width="6.4" height="6.2" fill="#f9bf00"/>
<text x="440.6" y="224.70000000000002" font-size="9.1" text-anchor="start" font-weight="normal" fill="#1a1a1a" stroke="#1a1a1a" stroke-width="0.18" >Apoptotic</text>
<rect x="430.5" y="232.2" width="6.4" height="6.2" fill="#673c12"/>
<text x="440.6" y="238.5" font-size="9.1" text-anchor="start" font-weight="normal" fill="#1a1a1a" stroke="#1a1a1a" stroke-width="0.18" >Dead</text>
</svg>
</body></html>
